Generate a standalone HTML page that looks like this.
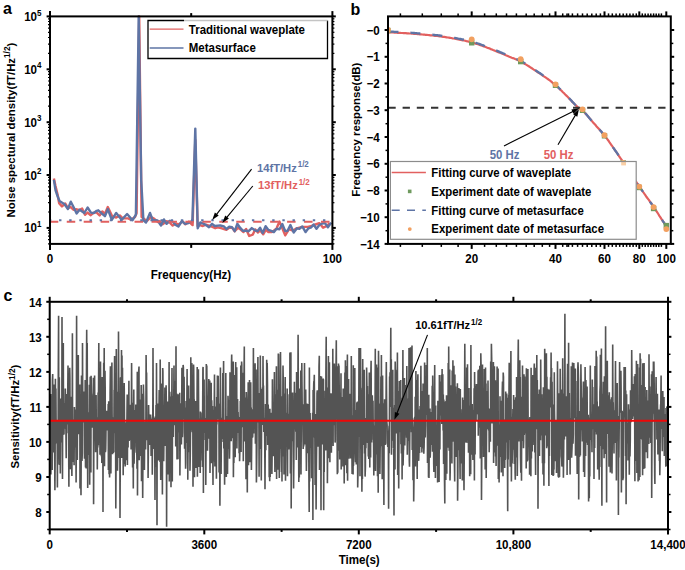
<!DOCTYPE html>
<html><head><meta charset="utf-8"><style>
html,body{margin:0;padding:0;background:#fff;}
svg{display:block;}
text{font-family:"Liberation Sans",sans-serif;}
</style></head><body>
<svg width="685" height="570" viewBox="0 0 685 570">
<defs><clipPath id="clipb"><rect x="388" y="16.4" width="282.8" height="227.5"/></clipPath></defs>
<rect width="685" height="570" fill="#fff"/>
<text transform="translate(0,14.00) scale(1,1.05) translate(0,-14.00)" x="3" y="14" font-size="16" font-weight="bold" font-family="Liberation Sans, sans-serif">a</text>
<polyline points="53.9,178.5 55.5,186.0 57.7,195.0 59.1,203.1 62.0,206.4 65.3,203.5 67.9,208.2 70.8,207.2 73.4,209.7 76.6,209.3 79.2,210.0 82.1,208.6 85.0,214.8 87.6,212.6 90.5,215.2 93.8,212.6 96.7,212.6 99.6,215.5 102.3,211.4 104.9,214.0 107.8,207.0 112.2,216.2 116.2,217.6 119.8,215.4 122.7,218.4 128.2,218.4 130.8,219.8 135.1,216.9 136.6,213.0 139.2,16.4 141.6,216.9 144.0,219.0 147.0,221.0 151.0,217.0 154.0,218.6 158.0,222.0 160.0,221.2 162.6,224.3 166.6,221.2 169.6,222.5 172.7,225.6 175.3,223.8 179.3,224.3 182.3,221.2 185.4,224.3 188.9,221.6 192.6,225.1 195.3,140.0 197.6,226.0 199.8,225.1 202.9,226.0 206.0,224.7 209.0,225.6 212.5,226.9 215.2,228.2 217.6,227.3 221.1,228.1 226.4,229.9 229.5,227.5 232.5,228.1 234.7,231.2 238.2,227.7 240.4,229.4 243.5,232.1 246.1,229.0 249.2,236.0 252.7,234.7 255.3,229.4 257.9,232.5 260.1,230.3 263.2,234.3 265.8,229.9 268.4,232.1 271.5,232.1 273.8,230.7 276.6,228.3 279.5,221.6 282.3,228.3 285.2,235.4 289.0,229.2 292.8,230.7 296.6,228.3 300.4,227.3 304.2,226.9 308.0,226.9 311.7,225.9 315.5,224.5 319.3,223.1 323.1,227.8 326.9,225.9 329.8,223.1" fill="none" stroke="#e2605f" stroke-width="2.4" stroke-linejoin="round"/>
<polyline points="53.9,179.9 55.5,190.0 57.5,196.0 59.5,201.0 64.6,204.2 67.9,209.0 70.8,201.7 73.4,206.8 76.6,213.4 79.6,209.7 84.3,213.0 87.6,207.5 90.9,212.6 93.8,213.0 96.7,210.8 98.3,210.3 101.9,213.6 104.9,216.2 107.8,209.2 111.8,219.8 116.2,212.9 121.6,219.8 127.1,214.0 132.6,220.2 135.9,214.7 138.7,16.4 141.2,180.0 143.4,220.4 146.0,222.5 150.0,212.9 152.6,219.9 157.5,220.4 161.0,225.6 163.9,219.4 166.6,223.8 169.6,220.8 172.7,221.6 175.3,224.7 178.4,226.5 181.9,221.2 185.0,223.8 188.5,223.0 192.4,220.8 195.3,128.6 197.7,228.2 200.3,222.5 202.9,223.4 206.0,225.1 209.0,227.3 212.1,223.8 214.7,226.0 217.8,225.6 220.3,225.5 223.8,226.4 226.4,229.0 229.0,226.8 232.1,227.3 234.7,231.2 237.3,223.8 240.0,227.7 243.0,230.8 246.1,230.8 248.7,231.2 251.8,228.1 254.8,230.3 257.5,231.2 260.1,227.7 262.7,233.0 265.6,226.2 268.4,229.9 271.9,231.2 273.8,232.1 276.6,228.8 279.5,229.2 282.3,224.0 285.2,231.1 287.6,230.7 290.4,225.0 293.7,232.6 297.0,228.3 299.4,228.8 302.3,226.4 305.6,232.1 308.4,228.3 311.3,227.3 313.6,224.5 316.5,228.8 319.3,225.0 322.2,223.5 325.0,223.1 327.9,227.3 331.2,222.6" fill="none" stroke="#5e74a5" stroke-width="2.4" stroke-linejoin="round"/>
<line x1="51.0" y1="221.7" x2="331.4" y2="221.7" stroke="#e2605f" stroke-width="2" stroke-dasharray="8.5 8.45" stroke-dashoffset="1.2"/>
<line x1="51.0" y1="220.3" x2="331.4" y2="220.3" stroke="#5e74a5" stroke-width="2" stroke-dasharray="2.4 7.75" stroke-dashoffset="2.1"/>
<rect x="50.0" y="16.4" width="282.4" height="227.5" fill="none" stroke="#000" stroke-width="2"/>
<line x1="50.0" y1="243.9" x2="50.0" y2="249.9" stroke="#000" stroke-width="2"/>
<line x1="50.0" y1="16.4" x2="50.0" y2="11.099999999999998" stroke="#000" stroke-width="2"/>
<line x1="191.2" y1="243.9" x2="191.2" y2="247.9" stroke="#000" stroke-width="2"/>
<line x1="191.2" y1="16.4" x2="191.2" y2="13.099999999999998" stroke="#000" stroke-width="2"/>
<line x1="332.4" y1="243.9" x2="332.4" y2="249.9" stroke="#000" stroke-width="2"/>
<line x1="332.4" y1="16.4" x2="332.4" y2="11.099999999999998" stroke="#000" stroke-width="2"/>
<line x1="46.6" y1="227.9" x2="50.0" y2="227.9" stroke="#000" stroke-width="2"/>
<line x1="332.4" y1="227.9" x2="335.79999999999995" y2="227.9" stroke="#000" stroke-width="2"/>
<line x1="48.0" y1="212.0" x2="50.0" y2="212.0" stroke="#000" stroke-width="1.2"/>
<line x1="332.4" y1="212.0" x2="334.4" y2="212.0" stroke="#000" stroke-width="1.2"/>
<line x1="48.0" y1="202.7" x2="50.0" y2="202.7" stroke="#000" stroke-width="1.2"/>
<line x1="332.4" y1="202.7" x2="334.4" y2="202.7" stroke="#000" stroke-width="1.2"/>
<line x1="48.0" y1="196.1" x2="50.0" y2="196.1" stroke="#000" stroke-width="1.2"/>
<line x1="332.4" y1="196.1" x2="334.4" y2="196.1" stroke="#000" stroke-width="1.2"/>
<line x1="48.0" y1="190.9" x2="50.0" y2="190.9" stroke="#000" stroke-width="1.2"/>
<line x1="332.4" y1="190.9" x2="334.4" y2="190.9" stroke="#000" stroke-width="1.2"/>
<line x1="48.0" y1="186.8" x2="50.0" y2="186.8" stroke="#000" stroke-width="1.2"/>
<line x1="332.4" y1="186.8" x2="334.4" y2="186.8" stroke="#000" stroke-width="1.2"/>
<line x1="48.0" y1="183.2" x2="50.0" y2="183.2" stroke="#000" stroke-width="1.2"/>
<line x1="332.4" y1="183.2" x2="334.4" y2="183.2" stroke="#000" stroke-width="1.2"/>
<line x1="48.0" y1="180.2" x2="50.0" y2="180.2" stroke="#000" stroke-width="1.2"/>
<line x1="332.4" y1="180.2" x2="334.4" y2="180.2" stroke="#000" stroke-width="1.2"/>
<line x1="48.0" y1="177.4" x2="50.0" y2="177.4" stroke="#000" stroke-width="1.2"/>
<line x1="332.4" y1="177.4" x2="334.4" y2="177.4" stroke="#000" stroke-width="1.2"/>
<line x1="46.6" y1="175.0" x2="50.0" y2="175.0" stroke="#000" stroke-width="2"/>
<line x1="332.4" y1="175.0" x2="335.79999999999995" y2="175.0" stroke="#000" stroke-width="2"/>
<line x1="48.0" y1="159.1" x2="50.0" y2="159.1" stroke="#000" stroke-width="1.2"/>
<line x1="332.4" y1="159.1" x2="334.4" y2="159.1" stroke="#000" stroke-width="1.2"/>
<line x1="48.0" y1="149.8" x2="50.0" y2="149.8" stroke="#000" stroke-width="1.2"/>
<line x1="332.4" y1="149.8" x2="334.4" y2="149.8" stroke="#000" stroke-width="1.2"/>
<line x1="48.0" y1="143.2" x2="50.0" y2="143.2" stroke="#000" stroke-width="1.2"/>
<line x1="332.4" y1="143.2" x2="334.4" y2="143.2" stroke="#000" stroke-width="1.2"/>
<line x1="48.0" y1="138.1" x2="50.0" y2="138.1" stroke="#000" stroke-width="1.2"/>
<line x1="332.4" y1="138.1" x2="334.4" y2="138.1" stroke="#000" stroke-width="1.2"/>
<line x1="48.0" y1="133.9" x2="50.0" y2="133.9" stroke="#000" stroke-width="1.2"/>
<line x1="332.4" y1="133.9" x2="334.4" y2="133.9" stroke="#000" stroke-width="1.2"/>
<line x1="48.0" y1="130.3" x2="50.0" y2="130.3" stroke="#000" stroke-width="1.2"/>
<line x1="332.4" y1="130.3" x2="334.4" y2="130.3" stroke="#000" stroke-width="1.2"/>
<line x1="48.0" y1="127.3" x2="50.0" y2="127.3" stroke="#000" stroke-width="1.2"/>
<line x1="332.4" y1="127.3" x2="334.4" y2="127.3" stroke="#000" stroke-width="1.2"/>
<line x1="48.0" y1="124.6" x2="50.0" y2="124.6" stroke="#000" stroke-width="1.2"/>
<line x1="332.4" y1="124.6" x2="334.4" y2="124.6" stroke="#000" stroke-width="1.2"/>
<line x1="46.6" y1="122.2" x2="50.0" y2="122.2" stroke="#000" stroke-width="2"/>
<line x1="332.4" y1="122.2" x2="335.79999999999995" y2="122.2" stroke="#000" stroke-width="2"/>
<line x1="48.0" y1="106.2" x2="50.0" y2="106.2" stroke="#000" stroke-width="1.2"/>
<line x1="332.4" y1="106.2" x2="334.4" y2="106.2" stroke="#000" stroke-width="1.2"/>
<line x1="48.0" y1="96.9" x2="50.0" y2="96.9" stroke="#000" stroke-width="1.2"/>
<line x1="332.4" y1="96.9" x2="334.4" y2="96.9" stroke="#000" stroke-width="1.2"/>
<line x1="48.0" y1="90.3" x2="50.0" y2="90.3" stroke="#000" stroke-width="1.2"/>
<line x1="332.4" y1="90.3" x2="334.4" y2="90.3" stroke="#000" stroke-width="1.2"/>
<line x1="48.0" y1="85.2" x2="50.0" y2="85.2" stroke="#000" stroke-width="1.2"/>
<line x1="332.4" y1="85.2" x2="334.4" y2="85.2" stroke="#000" stroke-width="1.2"/>
<line x1="48.0" y1="81.0" x2="50.0" y2="81.0" stroke="#000" stroke-width="1.2"/>
<line x1="332.4" y1="81.0" x2="334.4" y2="81.0" stroke="#000" stroke-width="1.2"/>
<line x1="48.0" y1="77.5" x2="50.0" y2="77.5" stroke="#000" stroke-width="1.2"/>
<line x1="332.4" y1="77.5" x2="334.4" y2="77.5" stroke="#000" stroke-width="1.2"/>
<line x1="48.0" y1="74.4" x2="50.0" y2="74.4" stroke="#000" stroke-width="1.2"/>
<line x1="332.4" y1="74.4" x2="334.4" y2="74.4" stroke="#000" stroke-width="1.2"/>
<line x1="48.0" y1="71.7" x2="50.0" y2="71.7" stroke="#000" stroke-width="1.2"/>
<line x1="332.4" y1="71.7" x2="334.4" y2="71.7" stroke="#000" stroke-width="1.2"/>
<line x1="46.6" y1="69.3" x2="50.0" y2="69.3" stroke="#000" stroke-width="2"/>
<line x1="332.4" y1="69.3" x2="335.79999999999995" y2="69.3" stroke="#000" stroke-width="2"/>
<line x1="48.0" y1="53.4" x2="50.0" y2="53.4" stroke="#000" stroke-width="1.2"/>
<line x1="332.4" y1="53.4" x2="334.4" y2="53.4" stroke="#000" stroke-width="1.2"/>
<line x1="48.0" y1="44.1" x2="50.0" y2="44.1" stroke="#000" stroke-width="1.2"/>
<line x1="332.4" y1="44.1" x2="334.4" y2="44.1" stroke="#000" stroke-width="1.2"/>
<line x1="48.0" y1="37.5" x2="50.0" y2="37.5" stroke="#000" stroke-width="1.2"/>
<line x1="332.4" y1="37.5" x2="334.4" y2="37.5" stroke="#000" stroke-width="1.2"/>
<line x1="48.0" y1="32.3" x2="50.0" y2="32.3" stroke="#000" stroke-width="1.2"/>
<line x1="332.4" y1="32.3" x2="334.4" y2="32.3" stroke="#000" stroke-width="1.2"/>
<line x1="48.0" y1="28.1" x2="50.0" y2="28.1" stroke="#000" stroke-width="1.2"/>
<line x1="332.4" y1="28.1" x2="334.4" y2="28.1" stroke="#000" stroke-width="1.2"/>
<line x1="48.0" y1="24.6" x2="50.0" y2="24.6" stroke="#000" stroke-width="1.2"/>
<line x1="332.4" y1="24.6" x2="334.4" y2="24.6" stroke="#000" stroke-width="1.2"/>
<line x1="48.0" y1="21.5" x2="50.0" y2="21.5" stroke="#000" stroke-width="1.2"/>
<line x1="332.4" y1="21.5" x2="334.4" y2="21.5" stroke="#000" stroke-width="1.2"/>
<line x1="48.0" y1="18.8" x2="50.0" y2="18.8" stroke="#000" stroke-width="1.2"/>
<line x1="332.4" y1="18.8" x2="334.4" y2="18.8" stroke="#000" stroke-width="1.2"/>
<line x1="46.6" y1="16.4" x2="50.0" y2="16.4" stroke="#000" stroke-width="2"/>
<line x1="332.4" y1="16.4" x2="335.79999999999995" y2="16.4" stroke="#000" stroke-width="2"/>
<line x1="48.0" y1="243.8" x2="50.0" y2="243.8" stroke="#000" stroke-width="1.2"/>
<line x1="332.4" y1="243.8" x2="334.4" y2="243.8" stroke="#000" stroke-width="1.2"/>
<line x1="48.0" y1="239.6" x2="50.0" y2="239.6" stroke="#000" stroke-width="1.2"/>
<line x1="332.4" y1="239.6" x2="334.4" y2="239.6" stroke="#000" stroke-width="1.2"/>
<line x1="48.0" y1="236.1" x2="50.0" y2="236.1" stroke="#000" stroke-width="1.2"/>
<line x1="332.4" y1="236.1" x2="334.4" y2="236.1" stroke="#000" stroke-width="1.2"/>
<line x1="48.0" y1="233.0" x2="50.0" y2="233.0" stroke="#000" stroke-width="1.2"/>
<line x1="332.4" y1="233.0" x2="334.4" y2="233.0" stroke="#000" stroke-width="1.2"/>
<line x1="48.0" y1="230.3" x2="50.0" y2="230.3" stroke="#000" stroke-width="1.2"/>
<line x1="332.4" y1="230.3" x2="334.4" y2="230.3" stroke="#000" stroke-width="1.2"/>
<text transform="translate(0,232.50) scale(1,1.05) translate(0,-232.50)" x="41.5" y="232.5" font-size="11.6" font-weight="bold" text-anchor="end" font-family="Liberation Sans, sans-serif">10<tspan dy="-5.2" font-size="8">1</tspan></text>
<text transform="translate(0,179.60) scale(1,1.05) translate(0,-179.60)" x="41.5" y="179.6" font-size="11.6" font-weight="bold" text-anchor="end" font-family="Liberation Sans, sans-serif">10<tspan dy="-5.2" font-size="8">2</tspan></text>
<text transform="translate(0,126.80) scale(1,1.05) translate(0,-126.80)" x="41.5" y="126.8" font-size="11.6" font-weight="bold" text-anchor="end" font-family="Liberation Sans, sans-serif">10<tspan dy="-5.2" font-size="8">3</tspan></text>
<text transform="translate(0,73.90) scale(1,1.05) translate(0,-73.90)" x="41.5" y="73.9" font-size="11.6" font-weight="bold" text-anchor="end" font-family="Liberation Sans, sans-serif">10<tspan dy="-5.2" font-size="8">4</tspan></text>
<text transform="translate(0,21.00) scale(1,1.05) translate(0,-21.00)" x="41.5" y="21.0" font-size="11.6" font-weight="bold" text-anchor="end" font-family="Liberation Sans, sans-serif">10<tspan dy="-5.2" font-size="8">5</tspan></text>
<text transform="translate(0,262.80) scale(1,1.05) translate(0,-262.80)" x="50.0" y="262.8" font-size="11.6" font-weight="bold" text-anchor="middle" font-family="Liberation Sans, sans-serif">0</text>
<text transform="translate(0,262.80) scale(1,1.05) translate(0,-262.80)" x="332.4" y="262.8" font-size="11.6" font-weight="bold" text-anchor="middle" font-family="Liberation Sans, sans-serif">100</text>
<text transform="translate(0,279.50) scale(1,1.05) translate(0,-279.50)" x="191" y="279.5" font-size="11.6" font-weight="bold" text-anchor="middle" font-family="Liberation Sans, sans-serif">Frequency(Hz)</text>
<text transform="translate(14.9,130.1) rotate(-90)" font-size="11.4" font-weight="bold" text-anchor="middle" font-family="Liberation Sans, sans-serif">Noise spectural density(fT/Hz<tspan dy="-4.6" font-size="8.2">1/2</tspan><tspan dy="4.6">)</tspan></text>
<rect x="148" y="20.5" width="179.5" height="38" fill="#fff" stroke="none"/>
<path d="M184,20.5 H148 V58.5 H327.5 V20.5" fill="none" stroke="#000" stroke-width="1.3"/>
<line x1="184" y1="20.5" x2="327.5" y2="20.5" stroke="#c4c4c4" stroke-width="1.3"/>
<line x1="149.7" y1="29.2" x2="183.5" y2="29.2" stroke="#e2605f" stroke-width="1.3"/>
<line x1="149.7" y1="48" x2="183.5" y2="48" stroke="#5e74a5" stroke-width="1.3"/>
<text transform="translate(0,33.60) scale(1,1.05) translate(0,-33.60)" x="188.8" y="33.6" font-size="11.5" font-weight="bold" font-family="Liberation Sans, sans-serif">Traditional waveplate</text>
<text transform="translate(0,52.40) scale(1,1.05) translate(0,-52.40)" x="188.8" y="52.4" font-size="11.5" font-weight="bold" font-family="Liberation Sans, sans-serif">Metasurface</text>
<text transform="translate(0,172.00) scale(1,1.05) translate(0,-172.00)" x="257" y="172.0" font-size="11.2" font-weight="bold" fill="#5e74a5" font-family="Liberation Sans, sans-serif">14fT/Hz<tspan dx="0.9" dy="-4.6" font-size="8">1/2</tspan></text>
<text transform="translate(0,189.50) scale(1,1.05) translate(0,-189.50)" x="258" y="189.5" font-size="11.2" font-weight="bold" fill="#e2605f" font-family="Liberation Sans, sans-serif">13fT/Hz<tspan dx="0.9" dy="-4.6" font-size="8">1/2</tspan></text>
<line x1="251.6" y1="169.1" x2="216.2" y2="214.9" stroke="#000" stroke-width="1.1"/><polygon points="212.2,220.0 214.9,212.6 218.7,215.5" fill="#000"/>
<line x1="252.8" y1="186.0" x2="226.4" y2="217.9" stroke="#000" stroke-width="1.1"/><polygon points="222.3,222.9 225.2,215.6 228.9,218.6" fill="#000"/>
<text transform="translate(0,15.20) scale(1,1.05) translate(0,-15.20)" x="350.5" y="15.2" font-size="16" font-weight="bold" font-family="Liberation Sans, sans-serif">b</text>
<polyline points="388.5,32.3 389.7,32.4 390.8,32.4 392.0,32.5 393.2,32.5 394.3,32.6 395.5,32.6 396.6,32.7 397.8,32.8 399.0,32.8 400.1,32.9 401.3,33.0 402.5,33.0 403.6,33.1 404.8,33.2 405.9,33.2 407.1,33.3 408.3,33.4 409.4,33.5 410.6,33.5 411.8,33.6 412.9,33.7 414.1,33.8 415.2,33.9 416.4,34.0 417.6,34.1 418.7,34.2 419.9,34.3 421.1,34.4 422.2,34.5 423.4,34.6 424.5,34.7 425.7,34.8 426.9,34.9 428.0,35.0 429.2,35.1 430.4,35.3 431.5,35.4 432.7,35.5 433.8,35.6 435.0,35.8 436.2,35.9 437.3,36.0 438.5,36.2 439.7,36.3 440.8,36.4 442.0,36.6 443.1,36.8 444.3,36.9 445.5,37.1 446.6,37.3 447.8,37.5 449.0,37.6 450.1,37.8 451.3,38.0 452.5,38.3 453.6,38.5 454.8,38.7 455.9,38.9 457.1,39.1 458.3,39.4 459.4,39.6 460.6,39.8 461.8,40.1 462.9,40.3 464.1,40.5 465.2,40.8 466.4,41.1 467.6,41.3 468.7,41.6 469.9,41.9 471.1,42.2 472.2,42.5 473.4,42.9 474.5,43.2 475.7,43.6 476.9,44.0 478.0,44.3 479.2,44.7 480.4,45.1 481.5,45.5 482.7,46.0 483.8,46.4 485.0,46.8 486.2,47.2 487.3,47.7 488.5,48.1 489.7,48.6 490.8,49.1 492.0,49.5 493.1,50.0 494.3,50.5 495.5,51.0 496.6,51.4 497.8,51.9 499.0,52.4 500.1,52.8 501.3,53.3 502.5,53.8 503.6,54.3 504.8,54.7 505.9,55.2 507.1,55.7 508.3,56.2 509.4,56.7 510.6,57.2 511.8,57.7 512.9,58.1 514.1,58.6 515.2,59.1 516.4,59.6 517.6,60.1 518.7,60.6 519.9,61.2 521.1,61.8 522.2,62.4 523.4,63.0 524.5,63.7 525.7,64.4 526.9,65.1 528.0,65.8 529.2,66.5 530.4,67.3 531.5,68.0 532.7,68.8 533.8,69.6 535.0,70.3 536.2,71.1 537.3,71.9 538.5,72.7 539.7,73.4 540.8,74.2 542.0,75.0 543.1,75.8 544.3,76.6 545.5,77.4 546.6,78.2 547.8,79.0 549.0,79.9 550.1,80.7 551.3,81.6 552.4,82.6 553.6,83.5 554.8,84.5 555.9,85.5 557.1,86.6 558.3,87.6 559.4,88.7 560.6,89.9 561.8,91.0 562.9,92.2 564.1,93.3 565.2,94.5 566.4,95.6 567.6,96.8 568.7,97.9 569.9,99.2 571.1,100.4 572.2,101.7 573.4,102.9 574.5,104.1 575.7,105.3 576.9,106.4 578.0,107.4 579.2,108.2 580.4,109.0 581.5,109.8 582.7,110.8 583.8,111.8 585.0,113.0 586.2,114.3 587.3,115.6 588.5,117.0 589.7,118.4 590.8,119.8 592.0,121.1 593.1,122.5 594.3,123.8 595.5,125.1 596.6,126.4 597.8,127.7 599.0,129.0 600.1,130.3 601.3,131.6 602.4,133.0 603.6,134.4 604.8,135.8 605.9,137.4 607.1,138.9 608.3,140.5 609.4,142.2 610.6,143.8 611.8,145.5 612.9,147.2 614.1,148.9 615.2,150.5 616.4,152.2 617.6,153.9 618.7,155.6 619.9,157.3 621.1,159.0 622.2,160.7 623.4,162.4 624.5,164.2 625.7,165.9 626.9,167.7 628.0,169.5 629.2,171.2 630.4,173.0 631.5,174.8 632.7,176.5 633.8,178.3 635.0,180.1 636.2,181.8 637.3,183.6 638.5,185.3 639.7,187.0 640.8,188.7 642.0,190.4 643.1,192.0 644.3,193.7 645.5,195.3 646.6,197.0 647.8,198.6 649.0,200.2 650.1,201.9 651.3,203.5 652.4,205.1 653.6,206.8 654.8,208.6 655.9,210.3 657.1,212.2 658.3,214.0 659.4,215.8 660.6,217.6 661.7,219.4 662.9,221.2 664.1,222.9 665.2,224.7 666.4,226.5" fill="none" stroke="#e2605f" stroke-width="2.2"/>
<polyline points="388.5,31.5 389.7,31.6 390.8,31.6 392.0,31.7 393.2,31.7 394.3,31.8 395.5,31.8 396.6,31.9 397.8,32.0 399.0,32.0 400.1,32.1 401.3,32.2 402.5,32.2 403.6,32.3 404.8,32.4 405.9,32.4 407.1,32.5 408.3,32.6 409.4,32.7 410.6,32.7 411.8,32.8 412.9,32.9 414.1,33.0 415.2,33.1 416.4,33.2 417.6,33.3 418.7,33.4 419.9,33.5 421.1,33.6 422.2,33.7 423.4,33.8 424.5,33.9 425.7,34.0 426.9,34.1 428.0,34.2 429.2,34.3 430.4,34.5 431.5,34.6 432.7,34.7 433.8,34.8 435.0,35.0 436.2,35.1 437.3,35.2 438.5,35.4 439.7,35.5 440.8,35.6 442.0,35.8 443.1,36.0 444.3,36.1 445.5,36.3 446.6,36.5 447.8,36.7 449.0,36.8 450.1,37.0 451.3,37.2 452.5,37.5 453.6,37.7 454.8,37.9 455.9,38.1 457.1,38.3 458.3,38.6 459.4,38.8 460.6,39.0 461.8,39.3 462.9,39.5 464.1,39.7 465.2,40.0 466.4,40.3 467.6,40.5 468.7,40.8 469.9,41.1 471.1,41.4 472.2,41.7 473.4,42.1 474.5,42.4 475.7,42.8 476.9,43.2 478.0,43.5 479.2,43.9 480.4,44.3 481.5,44.7 482.7,45.2 483.8,45.6 485.0,46.0 486.2,46.4 487.3,46.9 488.5,47.3 489.7,47.8 490.8,48.3 492.0,48.7 493.1,49.2 494.3,49.7 495.5,50.2 496.6,50.6 497.8,51.1 499.0,51.6 500.1,52.1 501.3,52.6 502.5,53.1 503.6,53.5 504.8,54.0 505.9,54.5 507.1,55.0 508.3,55.5 509.4,56.0 510.6,56.5 511.8,57.0 512.9,57.5 514.1,58.0 515.2,58.5 516.4,59.0 517.6,59.5 518.7,60.1 519.9,60.6 521.1,61.2 522.2,61.8 523.4,62.5 524.5,63.1 525.7,63.8 526.9,64.5 528.0,65.3 529.2,66.0 530.4,66.8 531.5,67.5 532.7,68.3 533.8,69.1 535.0,69.9 536.2,70.7 537.3,71.5 538.5,72.3 539.7,73.0 540.8,73.8 542.0,74.6 543.1,75.4 544.3,76.2 545.5,77.0 546.6,77.9 547.8,78.7 549.0,79.6 550.1,80.4 551.3,81.3 552.4,82.3 553.6,83.2 554.8,84.2 555.9,85.3 557.1,86.3 558.3,87.4 559.4,88.5 560.6,89.7 561.8,90.8 562.9,92.0 564.1,93.1 565.2,94.3 566.4,95.5 567.6,96.6 568.7,97.8 569.9,99.0 571.1,100.3 572.2,101.6 573.4,102.8 574.5,104.0 575.7,105.2 576.9,106.3 578.0,107.3 579.2,108.2 580.4,109.0 581.5,109.8 582.7,110.7 583.8,111.8 585.0,113.0 586.2,114.3 587.3,115.6 588.5,117.0 589.7,118.4 590.8,119.8 592.0,121.1 593.1,122.5 594.3,123.8 595.5,125.1 596.6,126.4 597.8,127.7 599.0,129.0 600.1,130.3 601.3,131.6 602.4,133.0 603.6,134.4 604.8,135.8 605.9,137.4 607.1,138.9 608.3,140.5 609.4,142.2 610.6,143.8 611.8,145.5 612.9,147.2 614.1,148.9 615.2,150.5 616.4,152.2 617.6,153.9 618.7,155.6 619.9,157.3 621.1,159.0 622.2,160.7 623.4,162.4 624.5,164.2 625.7,165.9 626.9,167.7 628.0,169.5 629.2,171.2 630.4,173.0 631.5,174.8 632.7,176.5 633.8,178.3 635.0,180.1 636.2,181.8 637.3,183.6 638.5,185.3 639.7,187.0 640.8,188.7 642.0,190.4 643.1,192.0 644.3,193.7 645.5,195.3 646.6,197.0 647.8,198.6 649.0,200.2 650.1,201.9 651.3,203.5 652.4,205.1 653.6,206.8 654.8,208.6 655.9,210.3 657.1,212.2 658.3,214.0 659.4,215.8 660.6,217.6 661.7,219.4 662.9,221.2 664.1,222.9 665.2,224.7 666.4,226.5" fill="none" stroke="#5e74a5" stroke-width="2.3" stroke-dasharray="10 12"/>
<line x1="389.0" y1="107.8" x2="669.8" y2="107.8" stroke="#333" stroke-width="2" stroke-dasharray="7.3 6.9" stroke-dashoffset="0.6"/>
<g clip-path="url(#clipb)">
<rect x="385.2" y="27.8" width="5.4" height="5.4" fill="#6f9a5e"/>
<rect x="469.0" y="40.1" width="5.4" height="5.4" fill="#6f9a5e"/>
<rect x="518.0" y="58.9" width="5.4" height="5.4" fill="#6f9a5e"/>
<rect x="552.8" y="82.6" width="5.4" height="5.4" fill="#6f9a5e"/>
<rect x="579.8" y="107.6" width="5.4" height="5.4" fill="#6f9a5e"/>
<rect x="601.8" y="133.1" width="5.4" height="5.4" fill="#6f9a5e"/>
<rect x="620.5" y="160.1" width="5.4" height="5.4" fill="#6f9a5e"/>
<rect x="636.6" y="184.8" width="5.4" height="5.4" fill="#6f9a5e"/>
<rect x="650.9" y="205.8" width="5.4" height="5.4" fill="#6f9a5e"/>
<rect x="663.6" y="222.9" width="5.4" height="5.4" fill="#6f9a5e"/>
<circle cx="387.9" cy="29.9" r="2.9" fill="#f2a060"/>
<circle cx="471.7" cy="39.3" r="2.9" fill="#f2a060"/>
<circle cx="520.7" cy="59.2" r="2.9" fill="#f2a060"/>
<circle cx="555.5" cy="84.3" r="2.9" fill="#f2a060"/>
<circle cx="582.5" cy="109.3" r="2.9" fill="#f2a060"/>
<circle cx="604.5" cy="135.2" r="2.9" fill="#f2a060"/>
<circle cx="623.2" cy="162.8" r="2.9" fill="#f2a060"/>
<circle cx="639.3" cy="186.6" r="2.9" fill="#f2a060"/>
<circle cx="653.6" cy="207.1" r="2.9" fill="#f2a060"/>
<circle cx="666.3" cy="229.1" r="2.9" fill="#f2a060"/>
</g>
<rect x="390.4" y="161.5" width="245.8" height="77.8" fill="#fff" stroke="none"/>
<rect x="621.2" y="160.8" width="4.8" height="4.6" fill="#f9cfa6"/>
<rect x="390.4" y="161.5" width="245.8" height="77.8" fill="none" stroke="#8c8c8c" stroke-width="1.2"/>
<line x1="391.7" y1="172.5" x2="425.9" y2="172.5" stroke="#e2605f" stroke-width="1.4"/>
<rect x="407.9" y="189.6" width="3.6" height="3.6" fill="#6f9a5e"/>
<line x1="391.7" y1="210.2" x2="425.9" y2="210.2" stroke="#5e74a5" stroke-width="1.4" stroke-dasharray="8 7.3"/>
<circle cx="409.8" cy="229.1" r="1.9" fill="#f2a060"/>
<text transform="translate(0,176.80) scale(1,1.05) translate(0,-176.80)" x="431.3" y="176.8" font-size="11.4" font-weight="bold" font-family="Liberation Sans, sans-serif">Fitting curve of waveplate</text>
<text transform="translate(0,196.00) scale(1,1.05) translate(0,-196.00)" x="431.3" y="196.0" font-size="11.4" font-weight="bold" font-family="Liberation Sans, sans-serif">Experiment date of waveplate</text>
<text transform="translate(0,214.80) scale(1,1.05) translate(0,-214.80)" x="431.3" y="214.8" font-size="11.4" font-weight="bold" font-family="Liberation Sans, sans-serif">Fitting curve of metasurface</text>
<text transform="translate(0,233.20) scale(1,1.05) translate(0,-233.20)" x="431.3" y="233.2" font-size="11.4" font-weight="bold" font-family="Liberation Sans, sans-serif">Experiment date of metasurface</text>
<text transform="translate(0,158.60) scale(1,1.05) translate(0,-158.60)" x="489.7" y="158.6" font-size="11.4" font-weight="bold" fill="#5e74a5" font-family="Liberation Sans, sans-serif">50 Hz</text>
<text transform="translate(0,158.60) scale(1,1.05) translate(0,-158.60)" x="543.7" y="158.6" font-size="11.4" font-weight="bold" fill="#e2605f" font-family="Liberation Sans, sans-serif">50 Hz</text>
<line x1="504.0" y1="145.9" x2="573.4" y2="111.2" stroke="#000" stroke-width="1.1"/><polygon points="579.2,108.3 573.6,113.8 571.4,109.5" fill="#000"/>
<line x1="558.0" y1="144.7" x2="575.7" y2="114.6" stroke="#000" stroke-width="1.1"/><polygon points="579.0,109.0 577.3,116.7 573.1,114.2" fill="#000"/>
<rect x="388.0" y="16.4" width="282.79999999999995" height="227.5" fill="none" stroke="#000" stroke-width="2"/>
<line x1="384.6" y1="30.0" x2="388.0" y2="30.0" stroke="#000" stroke-width="2"/>
<line x1="670.8" y1="30.0" x2="674.1999999999999" y2="30.0" stroke="#000" stroke-width="2"/>
<line x1="385.5" y1="43.4" x2="388.0" y2="43.4" stroke="#000" stroke-width="1.5"/>
<line x1="670.8" y1="43.4" x2="673.3" y2="43.4" stroke="#000" stroke-width="1.5"/>
<line x1="384.6" y1="56.8" x2="388.0" y2="56.8" stroke="#000" stroke-width="2"/>
<line x1="670.8" y1="56.8" x2="674.1999999999999" y2="56.8" stroke="#000" stroke-width="2"/>
<line x1="385.5" y1="70.2" x2="388.0" y2="70.2" stroke="#000" stroke-width="1.5"/>
<line x1="670.8" y1="70.2" x2="673.3" y2="70.2" stroke="#000" stroke-width="1.5"/>
<line x1="384.6" y1="83.5" x2="388.0" y2="83.5" stroke="#000" stroke-width="2"/>
<line x1="670.8" y1="83.5" x2="674.1999999999999" y2="83.5" stroke="#000" stroke-width="2"/>
<line x1="385.5" y1="96.9" x2="388.0" y2="96.9" stroke="#000" stroke-width="1.5"/>
<line x1="670.8" y1="96.9" x2="673.3" y2="96.9" stroke="#000" stroke-width="1.5"/>
<line x1="384.6" y1="110.2" x2="388.0" y2="110.2" stroke="#000" stroke-width="2"/>
<line x1="670.8" y1="110.2" x2="674.1999999999999" y2="110.2" stroke="#000" stroke-width="2"/>
<line x1="385.5" y1="123.7" x2="388.0" y2="123.7" stroke="#000" stroke-width="1.5"/>
<line x1="670.8" y1="123.7" x2="673.3" y2="123.7" stroke="#000" stroke-width="1.5"/>
<line x1="384.6" y1="137.0" x2="388.0" y2="137.0" stroke="#000" stroke-width="2"/>
<line x1="670.8" y1="137.0" x2="674.1999999999999" y2="137.0" stroke="#000" stroke-width="2"/>
<line x1="385.5" y1="150.4" x2="388.0" y2="150.4" stroke="#000" stroke-width="1.5"/>
<line x1="670.8" y1="150.4" x2="673.3" y2="150.4" stroke="#000" stroke-width="1.5"/>
<line x1="384.6" y1="163.8" x2="388.0" y2="163.8" stroke="#000" stroke-width="2"/>
<line x1="670.8" y1="163.8" x2="674.1999999999999" y2="163.8" stroke="#000" stroke-width="2"/>
<line x1="385.5" y1="177.2" x2="388.0" y2="177.2" stroke="#000" stroke-width="1.5"/>
<line x1="670.8" y1="177.2" x2="673.3" y2="177.2" stroke="#000" stroke-width="1.5"/>
<line x1="384.6" y1="190.5" x2="388.0" y2="190.5" stroke="#000" stroke-width="2"/>
<line x1="670.8" y1="190.5" x2="674.1999999999999" y2="190.5" stroke="#000" stroke-width="2"/>
<line x1="385.5" y1="203.9" x2="388.0" y2="203.9" stroke="#000" stroke-width="1.5"/>
<line x1="670.8" y1="203.9" x2="673.3" y2="203.9" stroke="#000" stroke-width="1.5"/>
<line x1="384.6" y1="217.2" x2="388.0" y2="217.2" stroke="#000" stroke-width="2"/>
<line x1="670.8" y1="217.2" x2="674.1999999999999" y2="217.2" stroke="#000" stroke-width="2"/>
<line x1="385.5" y1="230.7" x2="388.0" y2="230.7" stroke="#000" stroke-width="1.5"/>
<line x1="670.8" y1="230.7" x2="673.3" y2="230.7" stroke="#000" stroke-width="1.5"/>
<line x1="384.6" y1="243.9" x2="388.0" y2="243.9" stroke="#000" stroke-width="2"/>
<line x1="670.8" y1="243.9" x2="674.1999999999999" y2="243.9" stroke="#000" stroke-width="2"/>
<text transform="translate(0,34.60) scale(1,1.05) translate(0,-34.60)" x="379.6" y="34.6" font-size="11.6" font-weight="bold" text-anchor="end" font-family="Liberation Sans, sans-serif">−0</text>
<text transform="translate(0,61.40) scale(1,1.05) translate(0,-61.40)" x="379.6" y="61.4" font-size="11.6" font-weight="bold" text-anchor="end" font-family="Liberation Sans, sans-serif">−1</text>
<text transform="translate(0,88.10) scale(1,1.05) translate(0,-88.10)" x="379.6" y="88.1" font-size="11.6" font-weight="bold" text-anchor="end" font-family="Liberation Sans, sans-serif">−2</text>
<text transform="translate(0,114.80) scale(1,1.05) translate(0,-114.80)" x="379.6" y="114.8" font-size="11.6" font-weight="bold" text-anchor="end" font-family="Liberation Sans, sans-serif">−3</text>
<text transform="translate(0,141.60) scale(1,1.05) translate(0,-141.60)" x="379.6" y="141.6" font-size="11.6" font-weight="bold" text-anchor="end" font-family="Liberation Sans, sans-serif">−4</text>
<text transform="translate(0,168.30) scale(1,1.05) translate(0,-168.30)" x="379.6" y="168.3" font-size="11.6" font-weight="bold" text-anchor="end" font-family="Liberation Sans, sans-serif">−6</text>
<text transform="translate(0,195.10) scale(1,1.05) translate(0,-195.10)" x="379.6" y="195.1" font-size="11.6" font-weight="bold" text-anchor="end" font-family="Liberation Sans, sans-serif">−8</text>
<text transform="translate(0,221.80) scale(1,1.05) translate(0,-221.80)" x="379.6" y="221.8" font-size="11.6" font-weight="bold" text-anchor="end" font-family="Liberation Sans, sans-serif">−10</text>
<text transform="translate(0,248.60) scale(1,1.05) translate(0,-248.60)" x="379.6" y="248.6" font-size="11.6" font-weight="bold" text-anchor="end" font-family="Liberation Sans, sans-serif">−14</text>
<line x1="400.4" y1="243.9" x2="400.4" y2="246.9" stroke="#000" stroke-width="1.5"/>
<line x1="400.4" y1="16.4" x2="400.4" y2="13.399999999999999" stroke="#000" stroke-width="1.5"/>
<line x1="422.3" y1="243.9" x2="422.3" y2="246.9" stroke="#000" stroke-width="1.5"/>
<line x1="422.3" y1="16.4" x2="422.3" y2="13.399999999999999" stroke="#000" stroke-width="1.5"/>
<line x1="441.3" y1="243.9" x2="441.3" y2="246.9" stroke="#000" stroke-width="1.5"/>
<line x1="441.3" y1="16.4" x2="441.3" y2="13.399999999999999" stroke="#000" stroke-width="1.5"/>
<line x1="458.1" y1="243.9" x2="458.1" y2="246.9" stroke="#000" stroke-width="1.5"/>
<line x1="458.1" y1="16.4" x2="458.1" y2="13.399999999999999" stroke="#000" stroke-width="1.5"/>
<line x1="484.6" y1="243.9" x2="484.6" y2="246.9" stroke="#000" stroke-width="1.5"/>
<line x1="484.6" y1="16.4" x2="484.6" y2="13.399999999999999" stroke="#000" stroke-width="1.5"/>
<line x1="496.3" y1="243.9" x2="496.3" y2="246.9" stroke="#000" stroke-width="1.5"/>
<line x1="496.3" y1="16.4" x2="496.3" y2="13.399999999999999" stroke="#000" stroke-width="1.5"/>
<line x1="506.5" y1="243.9" x2="506.5" y2="246.9" stroke="#000" stroke-width="1.5"/>
<line x1="506.5" y1="16.4" x2="506.5" y2="13.399999999999999" stroke="#000" stroke-width="1.5"/>
<line x1="516.4" y1="243.9" x2="516.4" y2="246.9" stroke="#000" stroke-width="1.5"/>
<line x1="516.4" y1="16.4" x2="516.4" y2="13.399999999999999" stroke="#000" stroke-width="1.5"/>
<line x1="526.2" y1="243.9" x2="526.2" y2="246.9" stroke="#000" stroke-width="1.5"/>
<line x1="526.2" y1="16.4" x2="526.2" y2="13.399999999999999" stroke="#000" stroke-width="1.5"/>
<line x1="534.2" y1="243.9" x2="534.2" y2="246.9" stroke="#000" stroke-width="1.5"/>
<line x1="534.2" y1="16.4" x2="534.2" y2="13.399999999999999" stroke="#000" stroke-width="1.5"/>
<line x1="542.3" y1="243.9" x2="542.3" y2="246.9" stroke="#000" stroke-width="1.5"/>
<line x1="542.3" y1="16.4" x2="542.3" y2="13.399999999999999" stroke="#000" stroke-width="1.5"/>
<line x1="549.6" y1="243.9" x2="549.6" y2="246.9" stroke="#000" stroke-width="1.5"/>
<line x1="549.6" y1="16.4" x2="549.6" y2="13.399999999999999" stroke="#000" stroke-width="1.5"/>
<line x1="562.7" y1="243.9" x2="562.7" y2="246.9" stroke="#000" stroke-width="1.5"/>
<line x1="562.7" y1="16.4" x2="562.7" y2="13.399999999999999" stroke="#000" stroke-width="1.5"/>
<line x1="567.0" y1="243.9" x2="567.0" y2="246.9" stroke="#000" stroke-width="1.5"/>
<line x1="567.0" y1="16.4" x2="567.0" y2="13.399999999999999" stroke="#000" stroke-width="1.5"/>
<line x1="568.5" y1="243.9" x2="568.5" y2="246.9" stroke="#000" stroke-width="1.5"/>
<line x1="568.5" y1="16.4" x2="568.5" y2="13.399999999999999" stroke="#000" stroke-width="1.5"/>
<line x1="572.4" y1="243.9" x2="572.4" y2="246.9" stroke="#000" stroke-width="1.5"/>
<line x1="572.4" y1="16.4" x2="572.4" y2="13.399999999999999" stroke="#000" stroke-width="1.5"/>
<line x1="577.6" y1="243.9" x2="577.6" y2="246.9" stroke="#000" stroke-width="1.5"/>
<line x1="577.6" y1="16.4" x2="577.6" y2="13.399999999999999" stroke="#000" stroke-width="1.5"/>
<line x1="582.5" y1="243.9" x2="582.5" y2="246.9" stroke="#000" stroke-width="1.5"/>
<line x1="582.5" y1="16.4" x2="582.5" y2="13.399999999999999" stroke="#000" stroke-width="1.5"/>
<line x1="587.2" y1="243.9" x2="587.2" y2="246.9" stroke="#000" stroke-width="1.5"/>
<line x1="587.2" y1="16.4" x2="587.2" y2="13.399999999999999" stroke="#000" stroke-width="1.5"/>
<line x1="591.8" y1="243.9" x2="591.8" y2="246.9" stroke="#000" stroke-width="1.5"/>
<line x1="591.8" y1="16.4" x2="591.8" y2="13.399999999999999" stroke="#000" stroke-width="1.5"/>
<line x1="596.2" y1="243.9" x2="596.2" y2="246.9" stroke="#000" stroke-width="1.5"/>
<line x1="596.2" y1="16.4" x2="596.2" y2="13.399999999999999" stroke="#000" stroke-width="1.5"/>
<line x1="600.4" y1="243.9" x2="600.4" y2="246.9" stroke="#000" stroke-width="1.5"/>
<line x1="600.4" y1="16.4" x2="600.4" y2="13.399999999999999" stroke="#000" stroke-width="1.5"/>
<line x1="608.5" y1="243.9" x2="608.5" y2="246.9" stroke="#000" stroke-width="1.5"/>
<line x1="608.5" y1="16.4" x2="608.5" y2="13.399999999999999" stroke="#000" stroke-width="1.5"/>
<line x1="612.3" y1="243.9" x2="612.3" y2="246.9" stroke="#000" stroke-width="1.5"/>
<line x1="612.3" y1="16.4" x2="612.3" y2="13.399999999999999" stroke="#000" stroke-width="1.5"/>
<line x1="616.1" y1="243.9" x2="616.1" y2="246.9" stroke="#000" stroke-width="1.5"/>
<line x1="616.1" y1="16.4" x2="616.1" y2="13.399999999999999" stroke="#000" stroke-width="1.5"/>
<line x1="619.7" y1="243.9" x2="619.7" y2="246.9" stroke="#000" stroke-width="1.5"/>
<line x1="619.7" y1="16.4" x2="619.7" y2="13.399999999999999" stroke="#000" stroke-width="1.5"/>
<line x1="623.2" y1="243.9" x2="623.2" y2="246.9" stroke="#000" stroke-width="1.5"/>
<line x1="623.2" y1="16.4" x2="623.2" y2="13.399999999999999" stroke="#000" stroke-width="1.5"/>
<line x1="626.6" y1="243.9" x2="626.6" y2="246.9" stroke="#000" stroke-width="1.5"/>
<line x1="626.6" y1="16.4" x2="626.6" y2="13.399999999999999" stroke="#000" stroke-width="1.5"/>
<line x1="629.9" y1="243.9" x2="629.9" y2="246.9" stroke="#000" stroke-width="1.5"/>
<line x1="629.9" y1="16.4" x2="629.9" y2="13.399999999999999" stroke="#000" stroke-width="1.5"/>
<line x1="633.1" y1="243.9" x2="633.1" y2="246.9" stroke="#000" stroke-width="1.5"/>
<line x1="633.1" y1="16.4" x2="633.1" y2="13.399999999999999" stroke="#000" stroke-width="1.5"/>
<line x1="636.3" y1="243.9" x2="636.3" y2="246.9" stroke="#000" stroke-width="1.5"/>
<line x1="636.3" y1="16.4" x2="636.3" y2="13.399999999999999" stroke="#000" stroke-width="1.5"/>
<line x1="642.3" y1="243.9" x2="642.3" y2="246.9" stroke="#000" stroke-width="1.5"/>
<line x1="642.3" y1="16.4" x2="642.3" y2="13.399999999999999" stroke="#000" stroke-width="1.5"/>
<line x1="645.2" y1="243.9" x2="645.2" y2="246.9" stroke="#000" stroke-width="1.5"/>
<line x1="645.2" y1="16.4" x2="645.2" y2="13.399999999999999" stroke="#000" stroke-width="1.5"/>
<line x1="648.1" y1="243.9" x2="648.1" y2="246.9" stroke="#000" stroke-width="1.5"/>
<line x1="648.1" y1="16.4" x2="648.1" y2="13.399999999999999" stroke="#000" stroke-width="1.5"/>
<line x1="650.8" y1="243.9" x2="650.8" y2="246.9" stroke="#000" stroke-width="1.5"/>
<line x1="650.8" y1="16.4" x2="650.8" y2="13.399999999999999" stroke="#000" stroke-width="1.5"/>
<line x1="653.6" y1="243.9" x2="653.6" y2="246.9" stroke="#000" stroke-width="1.5"/>
<line x1="653.6" y1="16.4" x2="653.6" y2="13.399999999999999" stroke="#000" stroke-width="1.5"/>
<line x1="656.2" y1="243.9" x2="656.2" y2="246.9" stroke="#000" stroke-width="1.5"/>
<line x1="656.2" y1="16.4" x2="656.2" y2="13.399999999999999" stroke="#000" stroke-width="1.5"/>
<line x1="658.8" y1="243.9" x2="658.8" y2="246.9" stroke="#000" stroke-width="1.5"/>
<line x1="658.8" y1="16.4" x2="658.8" y2="13.399999999999999" stroke="#000" stroke-width="1.5"/>
<line x1="661.4" y1="243.9" x2="661.4" y2="246.9" stroke="#000" stroke-width="1.5"/>
<line x1="661.4" y1="16.4" x2="661.4" y2="13.399999999999999" stroke="#000" stroke-width="1.5"/>
<line x1="471.7" y1="243.9" x2="471.7" y2="248.9" stroke="#000" stroke-width="2"/>
<line x1="471.7" y1="16.4" x2="471.7" y2="11.399999999999999" stroke="#000" stroke-width="2"/>
<line x1="555.5" y1="243.9" x2="555.5" y2="248.9" stroke="#000" stroke-width="2"/>
<line x1="555.5" y1="16.4" x2="555.5" y2="11.399999999999999" stroke="#000" stroke-width="2"/>
<line x1="604.5" y1="243.9" x2="604.5" y2="248.9" stroke="#000" stroke-width="2"/>
<line x1="604.5" y1="16.4" x2="604.5" y2="11.399999999999999" stroke="#000" stroke-width="2"/>
<line x1="639.3" y1="243.9" x2="639.3" y2="248.9" stroke="#000" stroke-width="2"/>
<line x1="639.3" y1="16.4" x2="639.3" y2="11.399999999999999" stroke="#000" stroke-width="2"/>
<line x1="666.3" y1="243.9" x2="666.3" y2="248.9" stroke="#000" stroke-width="2"/>
<line x1="666.3" y1="16.4" x2="666.3" y2="11.399999999999999" stroke="#000" stroke-width="2"/>
<text transform="translate(0,262.60) scale(1,1.05) translate(0,-262.60)" x="471.7" y="262.6" font-size="11.6" font-weight="bold" text-anchor="middle" font-family="Liberation Sans, sans-serif">20</text>
<text transform="translate(0,262.60) scale(1,1.05) translate(0,-262.60)" x="555.5" y="262.6" font-size="11.6" font-weight="bold" text-anchor="middle" font-family="Liberation Sans, sans-serif">40</text>
<text transform="translate(0,262.60) scale(1,1.05) translate(0,-262.60)" x="604.5" y="262.6" font-size="11.6" font-weight="bold" text-anchor="middle" font-family="Liberation Sans, sans-serif">60</text>
<text transform="translate(0,262.60) scale(1,1.05) translate(0,-262.60)" x="639.3" y="262.6" font-size="11.6" font-weight="bold" text-anchor="middle" font-family="Liberation Sans, sans-serif">80</text>
<text transform="translate(0,262.60) scale(1,1.05) translate(0,-262.60)" x="666.3" y="262.6" font-size="11.6" font-weight="bold" text-anchor="middle" font-family="Liberation Sans, sans-serif">100</text>
<text transform="translate(359.9,129.7) rotate(-90)" font-size="11.4" font-weight="bold" text-anchor="middle" font-family="Liberation Sans, sans-serif">Frequency response(dB)</text>
<text transform="translate(0,301.00) scale(1,1.05) translate(0,-301.00)" x="3.5" y="301" font-size="16" font-weight="bold" font-family="Liberation Sans, sans-serif">c</text>
<polyline points="50.7,393.9 50.9,474.4 51.2,396.5 51.4,447.5 51.7,395.7 51.9,416.4 52.2,469.9 52.4,380.3 52.7,374.0 52.9,422.7 53.2,429.4 53.4,425.8 53.7,452.4 53.9,384.6 54.2,438.4 54.4,422.2 54.6,446.7 54.9,490.3 55.1,463.0 55.4,378.7 55.6,425.7 55.9,388.5 56.1,420.1 56.4,443.4 56.6,431.2 56.9,438.8 57.1,420.3 57.4,487.5 57.6,430.1 57.9,464.4 58.1,446.1 58.3,368.6 58.6,315.8 58.8,453.3 59.1,410.1 59.3,377.3 59.6,464.9 59.8,426.9 60.1,439.6 60.3,473.4 60.6,398.6 60.8,421.2 61.1,418.4 61.3,442.6 61.6,407.3 61.8,436.2 62.0,316.9 62.3,452.3 62.5,479.1 62.8,382.7 63.0,434.9 63.3,343.1 63.5,421.5 63.8,432.8 64.0,434.6 64.3,403.2 64.5,428.8 64.8,424.7 65.0,419.9 65.3,388.6 65.5,402.2 65.7,410.2 66.0,435.9 66.2,458.2 66.5,394.6 66.7,394.1 67.0,424.4 67.2,405.6 67.5,398.9 67.7,397.5 68.0,365.6 68.2,433.3 68.5,378.1 68.7,455.6 68.9,486.8 69.2,406.6 69.4,395.7 69.7,367.8 69.9,378.1 70.2,453.5 70.4,469.3 70.7,397.1 70.9,449.6 71.2,420.9 71.4,396.8 71.7,466.9 71.9,476.0 72.2,413.3 72.4,333.3 72.6,427.4 72.9,419.5 73.1,444.2 73.4,462.1 73.6,425.1 73.9,447.0 74.1,465.2 74.4,406.9 74.6,422.2 74.9,409.6 75.1,447.1 75.4,438.2 75.6,447.4 75.9,444.5 76.1,482.6 76.3,442.0 76.6,315.8 76.8,411.1 77.1,366.5 77.3,459.9 77.6,395.2 77.8,423.1 78.1,421.0 78.3,355.0 78.6,434.2 78.8,398.3 79.1,423.0 79.3,418.1 79.6,429.5 79.8,384.5 80.0,488.5 80.3,480.4 80.5,442.9 80.8,478.0 81.0,495.3 81.3,438.3 81.5,375.5 81.8,418.9 82.0,461.0 82.3,453.3 82.5,343.1 82.8,415.0 83.0,418.8 83.3,422.5 83.5,419.2 83.7,391.4 84.0,400.4 84.2,412.7 84.5,458.8 84.7,401.7 85.0,445.8 85.2,380.1 85.5,467.4 85.7,425.6 86.0,420.8 86.2,468.6 86.5,364.4 86.7,329.8 87.0,436.9 87.2,343.1 87.4,407.5 87.7,487.9 87.9,412.2 88.2,422.6 88.4,417.9 88.7,454.9 88.9,429.0 89.2,426.0 89.4,384.7 89.7,484.7 89.9,420.7 90.2,376.7 90.4,436.4 90.7,431.7 90.9,472.4 91.1,375.8 91.4,393.1 91.6,394.5 91.9,401.5 92.1,417.4 92.4,414.4 92.6,427.7 92.9,426.3 93.1,419.0 93.4,377.8 93.6,504.3 93.9,422.2 94.1,436.9 94.4,438.4 94.6,375.5 94.8,406.3 95.1,418.7 95.3,430.3 95.6,452.2 95.8,422.5 96.1,395.1 96.3,432.1 96.6,427.3 96.8,427.2 97.1,417.2 97.3,469.6 97.6,427.9 97.8,447.4 98.1,392.4 98.3,445.3 98.5,401.8 98.8,343.1 99.0,431.0 99.3,440.7 99.5,414.1 99.8,420.6 100.0,454.7 100.3,404.7 100.5,361.6 100.8,429.4 101.0,427.5 101.3,456.3 101.5,409.6 101.8,463.1 102.0,458.3 102.2,376.9 102.5,451.4 102.7,383.8 103.0,512.0 103.2,411.7 103.5,401.8 103.7,362.8 104.0,427.2 104.2,348.0 104.5,466.2 104.7,419.1 105.0,370.7 105.2,388.3 105.4,452.2 105.7,449.2 105.9,437.4 106.2,410.8 106.4,427.4 106.7,413.4 106.9,410.7 107.2,430.4 107.4,421.9 107.7,413.8 107.9,423.3 108.2,404.1 108.4,469.9 108.7,401.3 108.9,418.7 109.1,474.2 109.4,408.0 109.6,477.4 109.9,465.9 110.1,393.3 110.4,366.3 110.6,425.2 110.9,473.4 111.1,431.9 111.4,441.1 111.6,401.5 111.9,362.5 112.1,414.2 112.4,443.2 112.6,454.3 112.8,422.2 113.1,425.6 113.3,452.9 113.6,417.3 113.8,452.3 114.1,390.0 114.3,391.6 114.6,356.1 114.8,433.3 115.1,406.6 115.3,424.1 115.6,431.2 115.8,508.5 116.1,456.5 116.3,349.1 116.5,398.3 116.8,426.0 117.0,414.4 117.3,391.8 117.5,470.7 117.8,443.4 118.0,415.4 118.3,408.9 118.5,331.6 118.8,389.4 119.0,414.1 119.3,457.9 119.5,449.5 119.8,395.3 120.0,517.9 120.2,476.4 120.5,377.4 120.7,401.3 121.0,376.9 121.2,433.1 121.5,350.1 121.7,457.9 122.0,355.4 122.2,426.4 122.5,367.8 122.7,442.5 123.0,415.0 123.2,475.2 123.5,433.8 123.7,386.4 123.9,464.2 124.2,383.0 124.4,408.7 124.7,457.4 124.9,438.0 125.2,466.4 125.4,422.2 125.7,438.4 125.9,447.6 126.2,430.3 126.4,452.8 126.7,460.2 126.9,422.0 127.2,394.5 127.4,464.9 127.6,420.5 127.9,438.8 128.1,447.5 128.4,397.3 128.6,434.5 128.9,380.7 129.1,441.1 129.4,410.4 129.6,426.5 129.9,440.2 130.1,405.2 130.4,424.6 130.6,404.7 130.9,421.8 131.1,449.4 131.3,423.3 131.6,363.1 131.8,394.8 132.1,445.0 132.3,421.6 132.6,467.6 132.8,402.7 133.1,450.4 133.3,488.5 133.6,422.2 133.8,389.4 134.1,463.8 134.3,451.7 134.6,442.0 134.8,452.7 135.0,409.9 135.3,443.0 135.5,440.4 135.8,404.6 136.0,441.0 136.3,408.9 136.5,446.4 136.8,452.6 137.0,468.8 137.3,371.8 137.5,495.5 137.8,414.2 138.0,421.4 138.2,416.4 138.5,419.3 138.7,371.6 139.0,366.6 139.2,460.3 139.5,446.4 139.7,454.6 140.0,401.5 140.2,399.6 140.5,445.1 140.7,456.1 141.0,429.6 141.2,384.9 141.5,481.2 141.7,407.0 141.9,448.2 142.2,393.8 142.4,448.3 142.7,498.0 142.9,459.5 143.2,445.9 143.4,384.6 143.7,399.2 143.9,431.0 144.2,443.2 144.4,470.0 144.7,430.8 144.9,421.4 145.2,422.7 145.4,423.0 145.6,449.6 145.9,422.3 146.1,355.0 146.4,387.2 146.6,372.4 146.9,424.1 147.1,440.3 147.4,422.2 147.6,436.2 147.9,439.6 148.1,478.0 148.4,447.3 148.6,405.0 148.9,423.2 149.1,414.2 149.3,425.2 149.6,439.2 149.8,444.9 150.1,426.7 150.3,434.7 150.6,414.5 150.8,420.7 151.1,456.1 151.3,418.8 151.6,456.1 151.8,437.0 152.1,428.5 152.3,474.8 152.6,418.0 152.8,416.4 153.0,348.0 153.3,432.6 153.5,431.3 153.8,449.0 154.0,428.5 154.3,437.2 154.5,417.8 154.8,456.0 155.0,500.1 155.3,416.4 155.5,424.6 155.8,433.0 156.0,405.0 156.3,467.0 156.5,363.1 156.7,413.9 157.0,525.3 157.2,410.1 157.5,438.2 157.7,427.5 158.0,403.5 158.2,409.1 158.5,415.1 158.7,460.4 159.0,406.4 159.2,390.0 159.5,394.0 159.7,414.4 160.0,462.0 160.2,359.6 160.4,424.5 160.7,480.0 160.9,410.1 161.2,462.2 161.4,457.2 161.7,438.7 161.9,383.6 162.2,431.5 162.4,494.5 162.7,368.0 162.9,371.4 163.2,423.8 163.4,428.2 163.7,461.2 163.9,443.3 164.1,406.4 164.4,407.4 164.6,416.9 164.9,387.6 165.1,446.1 165.4,422.4 165.6,396.4 165.9,401.3 166.1,385.3 166.4,407.5 166.6,526.7 166.9,408.7 167.1,453.4 167.4,473.8 167.6,401.6 167.8,422.4 168.1,410.5 168.3,474.4 168.6,432.4 168.8,440.1 169.1,362.1 169.3,481.5 169.6,431.4 169.8,391.7 170.1,408.3 170.3,439.8 170.6,421.0 170.8,396.5 171.0,487.2 171.3,424.5 171.5,403.5 171.8,399.2 172.0,368.0 172.3,481.5 172.5,410.9 172.8,411.2 173.0,396.3 173.3,437.1 173.5,421.8 173.8,392.9 174.0,365.5 174.3,425.3 174.5,422.0 174.7,414.9 175.0,383.1 175.2,421.4 175.5,380.8 175.7,446.4 176.0,346.3 176.2,425.7 176.5,400.1 176.7,393.5 177.0,459.4 177.2,444.0 177.5,411.9 177.7,437.3 178.0,459.3 178.2,394.2 178.4,408.0 178.7,408.1 178.9,432.6 179.2,394.5 179.4,426.6 179.7,392.7 179.9,475.5 180.2,442.3 180.4,415.3 180.7,438.5 180.9,403.3 181.2,413.9 181.4,444.4 181.7,418.7 181.9,367.7 182.1,396.5 182.4,437.3 182.6,432.3 182.9,388.0 183.1,364.9 183.4,367.2 183.6,418.8 183.9,414.3 184.1,376.8 184.4,424.1 184.6,448.7 184.9,417.2 185.1,407.4 185.4,444.7 185.6,468.8 185.8,462.9 186.1,400.9 186.3,443.1 186.6,424.8 186.8,414.2 187.1,369.1 187.3,430.7 187.6,405.4 187.8,479.8 188.1,431.7 188.3,452.2 188.6,385.4 188.8,421.4 189.1,443.7 189.3,431.6 189.5,427.5 189.8,398.5 190.0,470.8 190.3,453.3 190.5,432.5 190.8,357.2 191.0,390.3 191.3,424.1 191.5,397.9 191.8,363.0 192.0,428.0 192.3,432.3 192.5,381.8 192.8,404.7 193.0,486.8 193.2,436.9 193.5,364.5 193.7,367.2 194.0,402.6 194.2,399.2 194.5,477.2 194.7,401.3 195.0,426.3 195.2,407.9 195.5,400.9 195.7,430.2 196.0,467.9 196.2,410.4 196.5,440.8 196.7,429.5 196.9,436.8 197.2,367.0 197.4,476.7 197.7,388.6 197.9,413.9 198.2,391.7 198.4,369.3 198.7,420.0 198.9,467.1 199.2,443.7 199.4,451.9 199.7,433.6 199.9,418.5 200.2,473.1 200.4,411.5 200.6,460.5 200.9,412.6 201.1,423.5 201.4,429.0 201.6,422.5 201.9,435.2 202.1,437.3 202.4,466.9 202.6,421.4 202.9,368.9 203.1,366.9 203.4,493.1 203.6,400.3 203.9,439.9 204.1,379.5 204.3,422.1 204.6,422.5 204.8,428.7 205.1,418.0 205.3,432.7 205.6,422.9 205.8,485.0 206.1,430.9 206.3,364.1 206.6,422.5 206.8,365.6 207.1,406.0 207.3,401.3 207.5,450.7 207.8,426.1 208.0,395.8 208.3,413.3 208.5,417.3 208.8,378.9 209.0,438.7 209.3,418.3 209.5,434.5 209.8,380.5 210.0,473.1 210.3,438.6 210.5,434.8 210.8,402.6 211.0,404.2 211.2,382.8 211.5,463.2 211.7,400.2 212.0,428.5 212.2,438.6 212.5,405.9 212.7,445.6 213.0,485.0 213.2,430.7 213.5,461.5 213.7,438.5 214.0,410.1 214.2,411.7 214.5,374.6 214.7,426.4 214.9,466.5 215.2,443.7 215.4,449.2 215.7,459.2 215.9,406.5 216.2,441.8 216.4,478.7 216.7,396.9 216.9,424.4 217.2,408.1 217.4,375.4 217.7,398.0 217.9,419.2 218.2,375.8 218.4,405.0 218.6,406.3 218.9,405.8 219.1,472.5 219.4,426.4 219.6,429.6 219.9,505.7 220.1,466.7 220.4,367.4 220.6,417.1 220.9,459.7 221.1,474.0 221.4,429.3 221.6,423.3 221.9,442.1 222.1,417.8 222.3,439.1 222.6,404.8 222.8,372.9 223.1,421.6 223.3,393.8 223.6,361.0 223.8,448.4 224.1,433.4 224.3,444.0 224.6,484.7 224.8,453.0 225.1,434.3 225.3,421.4 225.6,448.8 225.8,372.9 226.0,434.5 226.3,477.0 226.5,463.4 226.8,432.9 227.0,416.1 227.3,426.2 227.5,474.0 227.8,434.9 228.0,395.7 228.3,403.1 228.5,423.0 228.8,448.9 229.0,400.2 229.3,439.4 229.5,458.8 229.7,447.0 230.0,372.3 230.2,413.2 230.5,381.4 230.7,436.9 231.0,388.4 231.2,441.3 231.5,363.1 231.7,354.5 232.0,393.6 232.2,438.3 232.5,423.6 232.7,408.9 233.0,377.2 233.2,361.4 233.4,477.2 233.7,430.5 233.9,462.9 234.2,416.7 234.4,375.1 234.7,409.7 234.9,393.1 235.2,457.3 235.4,392.0 235.7,362.0 235.9,395.8 236.2,412.6 236.4,415.8 236.7,367.3 236.9,448.5 237.1,423.9 237.4,407.1 237.6,399.0 237.9,433.0 238.1,411.9 238.4,428.4 238.6,417.1 238.9,424.3 239.1,453.3 239.4,421.2 239.6,461.2 239.9,448.6 240.1,427.6 240.3,401.1 240.6,452.0 240.8,365.6 241.1,452.0 241.3,386.7 241.6,361.5 241.8,364.9 242.1,427.2 242.3,398.1 242.6,416.9 242.8,417.4 243.1,372.8 243.3,461.3 243.6,387.9 243.8,422.1 244.0,376.7 244.3,346.6 244.5,441.6 244.8,411.9 245.0,397.5 245.3,419.4 245.5,405.2 245.8,437.0 246.0,479.3 246.3,392.0 246.5,398.3 246.8,415.8 247.0,418.4 247.3,492.4 247.5,435.2 247.7,443.3 248.0,426.6 248.2,382.3 248.5,465.2 248.7,382.2 249.0,441.1 249.2,455.9 249.5,380.1 249.7,423.7 250.0,462.3 250.2,432.1 250.5,390.7 250.7,382.3 251.0,434.2 251.2,407.5 251.4,469.9 251.7,441.2 251.9,409.2 252.2,421.6 252.4,437.7 252.7,436.3 252.9,418.4 253.2,419.6 253.4,348.0 253.7,433.6 253.9,386.8 254.2,414.2 254.4,394.4 254.7,385.5 254.9,403.6 255.1,363.3 255.4,443.8 255.6,398.0 255.9,429.4 256.1,369.6 256.4,482.6 256.6,473.3 256.9,446.5 257.1,402.9 257.4,399.6 257.6,401.1 257.9,357.1 258.1,408.6 258.4,403.3 258.6,422.6 258.8,393.0 259.1,476.7 259.3,403.3 259.6,448.9 259.8,394.0 260.1,426.9 260.3,355.4 260.6,409.9 260.8,446.9 261.1,447.2 261.3,480.5 261.6,421.4 261.8,405.5 262.1,389.1 262.3,425.0 262.5,387.4 262.8,420.0 263.0,356.1 263.3,401.7 263.5,385.4 263.8,432.0 264.0,428.8 264.3,426.1 264.5,417.7 264.8,451.9 265.0,489.2 265.3,434.7 265.5,404.1 265.8,450.2 266.0,407.6 266.2,406.4 266.5,435.9 266.7,359.7 267.0,406.9 267.2,363.0 267.5,385.1 267.7,445.1 268.0,434.6 268.2,404.6 268.5,418.3 268.7,418.8 269.0,430.6 269.2,477.2 269.5,428.1 269.7,481.3 269.9,408.7 270.2,477.0 270.4,442.0 270.7,427.0 270.9,412.8 271.2,460.4 271.4,468.2 271.7,449.1 271.9,473.9 272.2,445.9 272.4,379.3 272.7,447.8 272.9,403.7 273.2,456.3 273.4,412.7 273.6,429.0 273.9,422.2 274.1,405.1 274.4,371.9 274.6,415.1 274.9,472.0 275.1,449.2 275.4,403.0 275.6,428.2 275.9,394.2 276.1,422.0 276.4,366.2 276.6,479.1 276.8,430.8 277.1,389.7 277.3,433.0 277.6,449.0 277.8,430.1 278.1,469.8 278.3,353.6 278.6,354.7 278.8,380.2 279.1,459.5 279.3,478.0 279.6,434.6 279.8,385.8 280.1,448.8 280.3,444.2 280.5,351.9 280.8,391.3 281.0,433.1 281.3,457.9 281.5,472.0 281.8,443.6 282.0,481.5 282.3,396.2 282.5,440.9 282.8,405.1 283.0,365.5 283.3,383.5 283.5,456.6 283.8,393.5 284.0,474.5 284.2,443.4 284.5,449.5 284.7,423.9 285.0,468.5 285.2,376.9 285.5,480.7 285.7,452.9 286.0,428.4 286.2,427.1 286.5,415.8 286.7,412.8 287.0,426.6 287.2,388.6 287.5,476.2 287.7,420.6 287.9,441.5 288.2,416.6 288.4,413.7 288.7,449.4 288.9,441.4 289.2,394.2 289.4,408.7 289.7,444.1 289.9,352.6 290.2,356.2 290.4,473.4 290.7,409.5 290.9,352.3 291.2,508.5 291.4,412.3 291.6,428.3 291.9,440.8 292.1,428.5 292.4,441.3 292.6,392.6 292.9,435.5 293.1,437.1 293.4,465.6 293.6,488.5 293.9,454.0 294.1,427.3 294.4,381.8 294.6,407.0 294.9,401.8 295.1,407.4 295.3,418.4 295.6,425.2 295.8,431.8 296.1,392.8 296.3,460.0 296.6,372.0 296.8,419.3 297.1,447.4 297.3,438.0 297.6,444.4 297.8,415.0 298.1,334.7 298.3,382.0 298.6,446.5 298.8,481.9 299.0,443.9 299.3,477.5 299.5,421.8 299.8,388.6 300.0,401.4 300.3,459.4 300.5,442.3 300.8,370.6 301.0,474.5 301.3,420.4 301.5,392.0 301.8,363.0 302.0,386.2 302.3,416.9 302.5,411.2 302.7,404.2 303.0,436.9 303.2,449.0 303.5,419.1 303.7,446.4 304.0,422.2 304.2,417.9 304.5,363.0 304.7,444.6 305.0,424.0 305.2,425.3 305.5,407.7 305.7,389.5 306.0,435.3 306.2,445.5 306.4,471.1 306.7,449.4 306.9,403.6 307.2,419.1 307.4,453.2 307.7,432.6 307.9,419.5 308.2,404.1 308.4,440.0 308.7,428.8 308.9,476.3 309.2,512.0 309.4,367.6 309.6,481.6 309.9,431.9 310.1,413.1 310.4,433.3 310.6,448.1 310.9,422.6 311.1,420.7 311.4,423.4 311.6,478.3 311.9,425.7 312.1,450.3 312.4,439.5 312.6,412.7 312.9,520.0 313.1,390.0 313.3,437.4 313.6,389.5 313.8,381.3 314.1,382.8 314.3,374.7 314.6,425.3 314.8,426.2 315.1,485.0 315.3,464.3 315.6,413.9 315.8,437.3 316.1,509.5 316.3,473.9 316.6,448.0 316.8,421.2 317.0,393.6 317.3,390.2 317.5,423.0 317.8,426.5 318.0,446.7 318.3,407.8 318.5,428.5 318.8,401.0 319.0,366.4 319.3,355.7 319.5,470.0 319.8,449.2 320.0,469.5 320.3,461.0 320.5,376.1 320.7,412.8 321.0,510.2 321.2,397.9 321.5,376.6 321.7,433.2 322.0,444.4 322.2,432.4 322.5,410.6 322.7,398.3 323.0,379.6 323.2,378.8 323.5,380.0 323.7,510.2 324.0,398.2 324.2,472.0 324.4,424.9 324.7,410.1 324.9,433.2 325.2,390.7 325.4,432.3 325.7,450.4 325.9,374.3 326.2,336.8 326.4,413.6 326.7,391.5 326.9,387.5 327.2,409.9 327.4,483.3 327.7,442.0 327.9,435.2 328.1,452.3 328.4,356.1 328.6,381.6 328.9,436.5 329.1,458.2 329.4,362.2 329.6,435.7 329.9,462.2 330.1,412.5 330.4,406.0 330.6,444.8 330.9,393.2 331.1,437.5 331.4,452.7 331.6,414.3 331.8,393.4 332.1,443.0 332.3,408.8 332.6,423.9 332.8,348.8 333.1,446.0 333.3,370.7 333.6,422.4 333.8,425.1 334.1,394.3 334.3,363.5 334.6,374.2 334.8,408.5 335.1,442.6 335.3,440.3 335.5,401.8 335.8,399.1 336.0,368.8 336.3,340.3 336.5,381.2 336.8,366.7 337.0,414.5 337.3,474.2 337.5,463.7 337.8,472.8 338.0,366.3 338.3,450.8 338.5,363.5 338.8,400.1 339.0,365.6 339.2,386.6 339.5,424.0 339.7,459.4 340.0,417.8 340.2,415.1 340.5,436.8 340.7,421.5 341.0,373.3 341.2,469.6 341.5,413.2 341.7,445.8 342.0,415.3 342.2,396.9 342.4,422.2 342.7,398.4 342.9,466.4 343.2,388.4 343.4,438.2 343.7,402.2 343.9,415.1 344.2,483.4 344.4,443.5 344.7,413.8 344.9,372.6 345.2,411.6 345.4,360.3 345.7,465.3 345.9,374.8 346.1,365.9 346.4,419.6 346.6,427.8 346.9,473.3 347.1,391.9 347.4,354.5 347.6,480.8 347.9,380.4 348.1,403.5 348.4,451.4 348.6,378.9 348.9,458.7 349.1,427.0 349.4,412.0 349.6,393.8 349.8,408.0 350.1,409.0 350.3,443.2 350.6,458.6 350.8,418.7 351.1,441.3 351.3,356.1 351.6,457.0 351.8,434.7 352.1,473.9 352.3,460.0 352.6,468.7 352.8,415.2 353.1,474.5 353.3,365.2 353.5,465.7 353.8,441.1 354.0,392.7 354.3,427.2 354.5,430.6 354.8,368.0 355.0,431.1 355.3,456.9 355.5,462.1 355.8,409.9 356.0,410.8 356.3,464.6 356.5,452.4 356.8,403.5 357.0,402.4 357.2,440.5 357.5,401.5 357.7,487.5 358.0,473.6 358.2,429.8 358.5,408.5 358.7,437.1 359.0,348.0 359.2,428.5 359.5,399.6 359.7,376.9 360.0,476.3 360.2,360.9 360.5,348.0 360.7,395.0 360.9,387.7 361.2,394.6 361.4,416.6 361.7,451.2 361.9,491.7 362.2,439.5 362.4,479.1 362.7,359.1 362.9,401.6 363.2,371.8 363.4,445.1 363.7,381.0 363.9,377.5 364.2,369.8 364.4,421.1 364.6,453.5 364.9,425.4 365.1,476.6 365.4,467.7 365.6,418.0 365.9,448.3 366.1,425.2 366.4,423.6 366.6,367.4 366.9,383.7 367.1,421.8 367.4,386.0 367.6,442.9 367.9,430.3 368.1,394.3 368.3,456.6 368.6,428.7 368.8,459.1 369.1,417.1 369.3,372.5 369.6,442.8 369.8,467.5 370.1,375.4 370.3,454.9 370.6,457.6 370.8,376.8 371.1,360.7 371.3,405.9 371.6,442.5 371.8,398.7 372.0,431.0 372.3,395.2 372.5,411.2 372.8,411.5 373.0,400.7 373.3,439.7 373.5,434.0 373.8,475.5 374.0,435.6 374.3,469.3 374.5,425.5 374.8,453.9 375.0,417.0 375.3,348.7 375.5,470.9 375.7,449.6 376.0,454.4 376.2,393.6 376.5,364.6 376.7,389.8 377.0,433.2 377.2,368.0 377.5,476.2 377.7,367.5 378.0,444.4 378.2,492.7 378.5,350.7 378.7,366.3 378.9,458.1 379.2,414.4 379.4,428.4 379.7,416.8 379.9,474.0 380.2,445.5 380.4,403.4 380.7,412.4 380.9,376.6 381.2,417.6 381.4,355.0 381.7,446.3 381.9,411.3 382.2,479.2 382.4,463.9 382.6,375.5 382.9,451.9 383.1,403.3 383.4,422.5 383.6,452.9 383.9,505.0 384.1,435.7 384.4,434.6 384.6,399.3 384.9,402.5 385.1,436.3 385.4,444.9 385.6,413.1 385.9,423.2 386.1,393.8 386.3,362.1 386.6,398.5 386.8,421.5 387.1,425.1 387.3,443.1 387.6,444.4 387.8,447.0 388.1,431.0 388.3,431.9 388.6,508.8 388.8,431.2 389.1,425.8 389.3,453.2 389.6,376.4 389.8,406.9 390.0,372.2 390.3,399.0 390.5,380.1 390.8,327.7 391.0,400.9 391.3,359.3 391.5,454.7 391.8,387.3 392.0,372.0 392.3,408.4 392.5,398.1 392.8,369.8 393.0,440.8 393.3,407.8 393.5,448.1 393.7,442.3 394.0,515.5 394.2,425.3 394.5,415.6 394.7,405.1 395.0,469.4 395.2,361.6 395.5,379.8 395.7,394.7 396.0,433.4 396.2,423.7 396.5,401.6 396.7,406.6 397.0,369.8 397.2,396.7 397.4,352.6 397.7,474.9 397.9,390.9 398.2,409.8 398.4,423.7 398.7,488.5 398.9,453.2 399.2,416.1 399.4,381.1 399.7,425.8 399.9,431.7 400.2,417.5 400.4,432.2 400.7,380.0 400.9,444.3 401.1,397.7 401.4,453.4 401.6,403.0 401.9,423.3 402.1,479.6 402.4,420.7 402.6,448.9 402.9,350.1 403.1,465.4 403.4,450.7 403.6,449.3 403.9,381.3 404.1,417.4 404.4,377.9 404.6,411.5 404.8,445.5 405.1,422.4 405.3,385.1 405.6,393.1 405.8,420.5 406.1,419.1 406.3,423.9 406.6,437.8 406.8,366.1 407.1,420.3 407.3,454.7 407.6,435.0 407.8,398.5 408.1,401.0 408.3,424.8 408.5,441.1 408.8,419.8 409.0,348.0 409.3,461.0 409.5,466.8 409.8,435.6 410.0,408.8 410.3,382.1 410.5,347.3 410.8,419.9 411.0,361.8 411.3,398.7 411.5,432.3 411.7,396.0 412.0,345.6 412.2,450.0 412.5,418.0 412.7,426.3 413.0,480.2 413.2,426.7 413.5,430.8 413.7,501.5 414.0,476.4 414.2,433.6 414.5,422.0 414.7,416.7 415.0,463.1 415.2,396.7 415.4,466.5 415.7,429.0 415.9,371.1 416.2,446.7 416.4,439.8 416.7,380.1 416.9,435.0 417.2,479.1 417.4,412.3 417.7,381.3 417.9,374.3 418.2,451.4 418.4,458.0 418.7,460.8 418.9,452.2 419.1,451.5 419.4,409.5 419.6,453.1 419.9,416.1 420.1,405.9 420.4,447.0 420.6,415.8 420.9,365.7 421.1,409.0 421.4,443.2 421.6,422.8 421.9,452.5 422.1,411.2 422.4,390.9 422.6,448.4 422.8,427.6 423.1,383.4 423.3,437.0 423.6,414.4 423.8,453.7 424.1,446.8 424.3,436.8 424.6,362.5 424.8,433.0 425.1,436.5 425.3,437.4 425.6,425.4 425.8,401.2 426.1,415.0 426.3,365.0 426.5,414.2 426.8,377.9 427.0,412.4 427.3,348.0 427.5,463.1 427.8,424.3 428.0,422.6 428.3,427.7 428.5,477.6 428.8,394.7 429.0,478.0 429.3,433.4 429.5,428.0 429.8,427.2 430.0,408.6 430.2,457.8 430.5,447.8 430.7,412.0 431.0,416.3 431.2,431.6 431.5,437.4 431.7,445.1 432.0,422.3 432.2,385.7 432.5,451.8 432.7,375.5 433.0,395.5 433.2,434.0 433.5,397.3 433.7,464.1 433.9,472.1 434.2,459.0 434.4,432.8 434.7,364.9 434.9,436.0 435.2,417.6 435.4,477.9 435.7,405.4 435.9,464.6 436.2,441.5 436.4,433.8 436.7,458.4 436.9,466.1 437.2,454.5 437.4,421.0 437.6,482.6 437.9,400.8 438.1,455.8 438.4,448.9 438.6,453.7 438.9,404.2 439.1,482.1 439.4,375.1 439.6,438.4 439.9,449.6 440.1,407.9 440.4,382.1 440.6,407.8 440.9,381.6 441.1,415.6 441.3,375.5 441.6,375.2 441.8,424.1 442.1,369.0 442.3,414.7 442.6,417.5 442.8,374.3 443.1,430.4 443.3,394.4 443.6,464.0 443.8,399.4 444.1,409.4 444.3,411.9 444.5,479.4 444.8,503.6 445.0,401.4 445.3,442.7 445.5,417.9 445.8,479.9 446.0,401.0 446.3,439.8 446.5,395.2 446.8,473.8 447.0,400.3 447.3,427.5 447.5,396.9 447.8,447.7 448.0,438.7 448.2,362.9 448.5,445.0 448.7,346.6 449.0,428.7 449.2,450.7 449.5,385.4 449.7,369.5 450.0,480.5 450.2,471.8 450.5,385.6 450.7,387.2 451.0,395.7 451.2,385.3 451.5,447.1 451.7,425.8 451.9,463.5 452.2,370.5 452.4,389.7 452.7,441.8 452.9,360.2 453.2,418.2 453.4,441.2 453.7,394.6 453.9,365.7 454.2,404.6 454.4,460.8 454.7,481.5 454.9,374.5 455.2,437.2 455.4,446.5 455.6,386.6 455.9,415.9 456.1,457.1 456.4,433.1 456.6,445.4 456.9,410.9 457.1,417.0 457.4,383.3 457.6,500.8 457.9,470.8 458.1,407.5 458.4,392.0 458.6,406.1 458.9,388.1 459.1,437.8 459.3,450.2 459.6,391.7 459.8,453.5 460.1,478.9 460.3,389.0 460.6,442.8 460.8,429.9 461.1,463.4 461.3,461.2 461.6,456.0 461.8,431.6 462.1,409.2 462.3,480.4 462.6,397.6 462.8,456.6 463.0,453.1 463.3,399.9 463.5,422.8 463.8,467.3 464.0,490.3 464.3,446.7 464.5,413.0 464.8,343.8 465.0,377.8 465.3,434.2 465.5,390.6 465.8,442.4 466.0,387.7 466.3,442.7 466.5,431.0 466.7,367.6 467.0,411.6 467.2,417.5 467.5,364.2 467.7,410.5 468.0,443.0 468.2,400.4 468.5,452.7 468.7,390.0 469.0,388.1 469.2,435.9 469.5,437.3 469.7,476.2 470.0,420.2 470.2,446.5 470.4,405.4 470.7,474.2 470.9,344.9 471.2,431.5 471.4,428.0 471.7,412.1 471.9,454.7 472.2,404.0 472.4,425.7 472.7,439.1 472.9,460.0 473.2,455.0 473.4,409.9 473.7,449.2 473.9,418.6 474.1,388.2 474.4,480.5 474.6,372.0 474.9,429.9 475.1,454.5 475.4,388.7 475.6,410.9 475.9,385.8 476.1,420.2 476.4,383.9 476.6,394.7 476.9,398.8 477.1,405.3 477.4,408.6 477.6,413.6 477.8,413.8 478.1,370.5 478.3,435.7 478.6,369.4 478.8,423.7 479.1,391.7 479.3,423.2 479.6,427.7 479.8,365.7 480.1,429.6 480.3,458.6 480.6,442.2 480.8,353.3 481.0,362.3 481.3,414.0 481.5,500.1 481.8,453.4 482.0,408.8 482.3,397.9 482.5,364.6 482.8,444.6 483.0,399.5 483.3,409.9 483.5,456.9 483.8,421.2 484.0,430.1 484.3,369.1 484.5,398.7 484.7,400.7 485.0,436.6 485.2,469.6 485.5,367.6 485.7,410.8 486.0,383.5 486.2,478.0 486.5,439.5 486.7,391.1 487.0,429.3 487.2,422.8 487.5,423.6 487.7,420.6 488.0,380.6 488.2,416.1 488.4,426.0 488.7,430.4 488.9,408.5 489.2,452.2 489.4,438.3 489.7,422.4 489.9,440.4 490.2,424.7 490.4,441.7 490.7,361.6 490.9,374.9 491.2,405.2 491.4,343.8 491.7,359.6 491.9,409.7 492.1,423.5 492.4,410.5 492.6,410.4 492.9,374.2 493.1,421.2 493.4,362.0 493.6,462.9 493.9,398.3 494.1,452.4 494.4,366.3 494.6,430.9 494.9,422.4 495.1,391.2 495.4,380.3 495.6,456.4 495.8,431.8 496.1,466.1 496.3,416.0 496.6,423.9 496.8,432.2 497.1,366.6 497.3,433.6 497.6,445.8 497.8,402.5 498.1,368.6 498.3,478.9 498.6,424.6 498.8,435.1 499.1,482.6 499.3,453.9 499.5,425.7 499.8,456.9 500.0,396.3 500.3,417.1 500.5,426.1 500.8,408.0 501.0,428.9 501.3,472.5 501.5,400.8 501.8,411.1 502.0,425.6 502.3,388.8 502.5,381.6 502.8,455.1 503.0,476.2 503.2,372.6 503.5,377.0 503.7,443.0 504.0,456.0 504.2,439.5 504.5,435.2 504.7,467.9 505.0,419.6 505.2,459.9 505.5,458.2 505.7,391.6 506.0,442.4 506.2,422.9 506.5,399.9 506.7,393.5 506.9,431.9 507.2,419.0 507.4,449.0 507.7,511.3 507.9,397.8 508.2,459.6 508.4,420.4 508.7,395.0 508.9,403.3 509.2,362.8 509.4,370.5 509.7,440.1 509.9,423.8 510.2,466.7 510.4,411.6 510.6,415.2 510.9,350.9 511.1,417.1 511.4,481.6 511.6,443.9 511.9,416.7 512.1,463.6 512.4,450.1 512.6,432.9 512.9,409.1 513.1,426.0 513.4,449.7 513.6,395.0 513.8,437.9 514.1,436.4 514.3,464.0 514.6,445.5 514.8,399.8 515.1,472.4 515.3,479.8 515.6,397.3 515.8,432.8 516.1,412.7 516.3,457.4 516.6,377.1 516.8,383.9 517.1,412.7 517.3,475.9 517.5,455.9 517.8,387.4 518.0,365.9 518.3,339.6 518.5,377.6 518.8,441.6 519.0,427.1 519.3,420.5 519.5,406.0 519.8,360.3 520.0,389.2 520.3,377.1 520.5,457.6 520.8,472.7 521.0,409.7 521.2,440.5 521.5,480.7 521.7,396.8 522.0,416.1 522.2,434.1 522.5,365.6 522.7,416.7 523.0,441.1 523.2,417.8 523.5,448.3 523.7,440.7 524.0,374.3 524.2,435.0 524.5,432.4 524.7,376.5 524.9,397.7 525.2,399.0 525.4,406.2 525.7,407.3 525.9,380.3 526.2,468.5 526.4,368.2 526.7,447.9 526.9,428.0 527.2,461.4 527.4,430.9 527.7,404.7 527.9,369.1 528.2,441.5 528.4,420.4 528.6,432.3 528.9,445.0 529.1,460.5 529.4,418.5 529.6,474.8 529.9,417.0 530.1,419.9 530.4,440.6 530.6,450.8 530.9,476.2 531.1,367.7 531.4,458.5 531.6,377.2 531.9,404.1 532.1,430.4 532.3,451.5 532.6,392.9 532.8,375.0 533.1,445.0 533.3,428.3 533.6,393.4 533.8,411.9 534.1,369.3 534.3,363.5 534.6,406.7 534.8,452.6 535.1,367.8 535.3,439.2 535.6,474.9 535.8,423.8 536.0,424.1 536.3,371.6 536.5,429.2 536.8,355.0 537.0,405.4 537.3,380.1 537.5,422.2 537.8,394.1 538.0,508.8 538.3,428.1 538.5,418.6 538.8,419.8 539.0,443.8 539.3,389.6 539.5,455.9 539.7,390.6 540.0,396.1 540.2,422.9 540.5,440.3 540.7,359.6 541.0,408.2 541.2,401.1 541.5,413.0 541.7,394.2 542.0,435.5 542.2,414.2 542.5,463.3 542.7,399.5 543.0,474.5 543.2,432.3 543.4,387.2 543.7,400.4 543.9,485.7 544.2,419.4 544.4,463.2 544.7,348.7 544.9,360.4 545.2,435.5 545.4,418.4 545.7,427.7 545.9,410.6 546.2,402.3 546.4,353.3 546.7,448.2 546.9,376.7 547.1,446.4 547.4,412.9 547.6,388.7 547.9,401.0 548.1,446.2 548.4,439.6 548.6,433.1 548.9,486.1 549.1,389.4 549.4,455.9 549.6,407.7 549.9,403.6 550.1,404.9 550.3,407.4 550.6,377.3 550.8,406.5 551.1,352.6 551.3,404.0 551.6,368.0 551.8,475.0 552.1,381.8 552.3,428.5 552.6,429.2 552.8,450.8 553.1,475.9 553.3,432.7 553.6,475.2 553.8,404.5 554.0,469.4 554.3,372.2 554.5,411.2 554.8,429.2 555.0,445.6 555.3,448.6 555.5,461.3 555.8,440.3 556.0,420.3 556.3,427.1 556.5,472.9 556.8,430.4 557.0,453.8 557.3,414.6 557.5,361.3 557.7,397.1 558.0,432.3 558.2,476.7 558.5,473.6 558.7,477.7 559.0,393.2 559.2,449.3 559.5,477.0 559.7,443.8 560.0,417.2 560.2,368.7 560.5,445.7 560.7,433.0 561.0,449.5 561.2,389.6 561.4,456.1 561.7,459.0 561.9,466.4 562.2,465.8 562.4,405.9 562.7,358.2 562.9,449.7 563.2,393.4 563.4,477.7 563.7,450.6 563.9,428.1 564.2,426.9 564.4,439.4 564.7,368.1 564.9,313.7 565.1,410.1 565.4,411.4 565.6,436.5 565.9,416.4 566.1,396.3 566.4,416.3 566.6,409.0 566.9,401.3 567.1,474.9 567.4,379.4 567.6,363.8 567.9,393.2 568.1,392.2 568.4,460.0 568.6,342.8 568.8,443.5 569.1,437.2 569.3,392.9 569.6,443.7 569.8,424.3 570.1,474.6 570.3,425.2 570.6,417.9 570.8,441.7 571.1,442.3 571.3,366.2 571.6,457.7 571.8,453.1 572.1,445.8 572.3,382.8 572.5,362.5 572.8,409.9 573.0,443.7 573.3,434.5 573.5,385.6 573.8,363.1 574.0,372.6 574.3,373.7 574.5,418.2 574.8,399.1 575.0,395.6 575.3,368.6 575.5,455.8 575.8,380.9 576.0,433.2 576.2,446.4 576.5,417.1 576.7,427.8 577.0,454.1 577.2,474.0 577.5,452.7 577.7,370.9 578.0,362.3 578.2,367.7 578.5,379.7 578.7,499.4 579.0,423.2 579.2,411.0 579.5,457.0 579.7,453.7 579.9,417.3 580.2,431.2 580.4,455.6 580.7,407.9 580.9,364.2 581.2,387.6 581.4,420.7 581.7,430.1 581.9,416.5 582.2,426.0 582.4,441.4 582.7,433.0 582.9,397.4 583.1,400.7 583.4,381.4 583.6,472.0 583.9,432.5 584.1,433.2 584.4,415.3 584.6,477.0 584.9,436.1 585.1,367.0 585.4,415.1 585.6,455.9 585.9,380.1 586.1,390.3 586.4,438.0 586.6,395.4 586.8,442.8 587.1,386.5 587.3,427.1 587.6,444.9 587.8,431.8 588.1,443.7 588.3,414.7 588.6,501.5 588.8,419.4 589.1,437.9 589.3,498.2 589.6,417.6 589.8,476.5 590.1,412.7 590.3,365.6 590.5,411.6 590.8,433.4 591.0,426.5 591.3,425.0 591.5,439.1 591.8,440.4 592.0,452.3 592.3,379.5 592.5,421.1 592.8,387.1 593.0,429.3 593.3,418.0 593.5,426.6 593.8,404.2 594.0,479.1 594.2,412.1 594.5,444.2 594.7,447.9 595.0,366.0 595.2,430.4 595.5,430.7 595.7,369.3 596.0,382.6 596.2,350.8 596.5,434.5 596.7,356.5 597.0,406.9 597.2,401.6 597.5,426.5 597.7,469.5 597.9,466.7 598.2,406.5 598.4,407.2 598.7,428.6 598.9,459.6 599.2,479.8 599.4,431.2 599.7,467.0 599.9,392.3 600.2,384.9 600.4,354.8 600.7,394.3 600.9,438.0 601.2,445.9 601.4,348.4 601.6,437.4 601.9,505.7 602.1,393.8 602.4,403.8 602.6,404.6 602.9,414.8 603.1,402.9 603.4,381.8 603.6,449.2 603.9,432.9 604.1,458.3 604.4,376.3 604.6,384.8 604.9,399.7 605.1,454.0 605.3,415.7 605.6,326.3 605.8,418.2 606.1,426.0 606.3,405.4 606.6,502.5 606.8,395.3 607.1,413.3 607.3,360.7 607.6,424.0 607.8,434.1 608.1,395.3 608.3,429.0 608.6,411.4 608.8,432.8 609.0,466.8 609.3,392.3 609.5,453.6 609.8,399.3 610.0,407.4 610.3,472.5 610.5,450.2 610.8,436.7 611.0,446.4 611.3,457.8 611.5,397.2 611.8,428.1 612.0,473.4 612.3,434.2 612.5,410.9 612.7,344.5 613.0,421.4 613.2,402.3 613.5,419.2 613.7,434.6 614.0,453.6 614.2,415.5 614.5,410.3 614.7,428.2 615.0,443.0 615.2,404.9 615.5,360.9 615.7,429.1 615.9,411.1 616.2,410.1 616.4,480.6 616.7,417.2 616.9,439.8 617.2,383.1 617.4,427.4 617.7,441.3 617.9,426.4 618.2,416.1 618.4,515.1 618.7,422.0 618.9,457.6 619.2,426.8 619.4,398.9 619.6,362.1 619.9,400.4 620.1,412.7 620.4,386.0 620.6,390.5 620.9,370.8 621.1,387.8 621.4,492.4 621.6,412.5 621.9,414.9 622.1,410.9 622.4,414.1 622.6,446.2 622.9,480.2 623.1,442.6 623.3,478.6 623.6,418.4 623.8,420.4 624.1,367.0 624.3,399.2 624.6,393.9 624.8,417.6 625.1,370.5 625.3,367.0 625.6,456.0 625.8,390.4 626.1,504.3 626.3,408.6 626.6,394.2 626.8,440.7 627.0,437.0 627.3,443.3 627.5,441.2 627.8,423.2 628.0,460.4 628.3,449.6 628.5,404.3 628.8,422.6 629.0,409.4 629.3,474.7 629.5,444.2 629.8,437.6 630.0,456.6 630.3,439.2 630.5,390.3 630.7,422.5 631.0,420.0 631.2,420.1 631.5,396.1 631.7,350.1 632.0,380.9 632.2,404.1 632.5,415.0 632.7,419.0 633.0,401.7 633.2,384.0 633.5,386.6 633.7,407.1 634.0,389.3 634.2,416.4 634.4,376.3 634.7,421.5 634.9,481.3 635.2,373.9 635.4,416.8 635.7,460.9 635.9,427.3 636.2,450.7 636.4,360.8 636.7,403.8 636.9,473.0 637.2,402.4 637.4,433.7 637.7,364.1 637.9,455.0 638.1,481.6 638.4,418.4 638.6,431.9 638.9,466.1 639.1,480.2 639.4,406.7 639.6,367.5 639.9,477.1 640.1,353.3 640.4,439.0 640.6,358.8 640.9,406.5 641.1,426.6 641.4,384.9 641.6,403.6 641.8,439.6 642.1,397.7 642.3,437.0 642.6,475.2 642.8,363.3 643.1,431.6 643.3,439.7 643.6,410.0 643.8,468.9 644.1,363.1 644.3,435.8 644.6,436.3 644.8,468.2 645.1,386.9 645.3,434.7 645.5,406.0 645.8,402.9 646.0,452.2 646.3,413.9 646.5,447.7 646.8,390.1 647.0,407.6 647.3,420.1 647.5,458.3 647.8,417.3 648.0,442.3 648.3,400.4 648.5,424.0 648.8,443.9 649.0,354.3 649.2,399.6 649.5,437.8 649.7,386.6 650.0,429.3 650.2,429.7 650.5,416.9 650.7,443.0 651.0,433.8 651.2,425.4 651.5,374.3 651.7,498.0 652.0,428.4 652.2,371.2 652.4,421.9 652.7,409.1 652.9,394.4 653.2,412.0 653.4,361.6 653.7,413.7 653.9,361.4 654.2,384.7 654.4,431.7 654.7,476.2 654.9,484.1 655.2,394.2 655.4,399.1 655.7,399.8 655.9,395.2 656.1,376.9 656.4,421.7 656.6,396.5 656.9,439.6 657.1,429.6 657.4,393.7 657.6,410.6 657.9,454.5 658.1,411.3 658.4,425.2 658.6,441.5 658.9,409.4 659.1,430.9 659.4,460.9 659.6,449.1 659.8,475.2 660.1,459.6 660.3,414.8 660.6,404.8 660.8,404.0 661.1,375.4 661.3,428.9 661.6,416.9 661.8,399.6 662.1,437.5 662.3,451.3 662.6,393.9 662.8,391.0 663.1,410.6 663.3,437.1 663.5,409.4 663.8,417.5 664.0,397.0 664.3,456.1 664.5,417.2 664.8,425.2 665.0,453.4 665.3,414.1 665.5,419.5 665.8,466.8 666.0,408.1 666.3,465.9 666.5,422.3 666.8,406.4 667.0,411.1" fill="none" stroke="#545454" stroke-width="1.6"/>
<line x1="49.7" y1="420.8" x2="668.0" y2="420.8" stroke="#ee0707" stroke-width="2.0"/>
<line x1="427.5" y1="334.9" x2="396.8" y2="413.7" stroke="#000" stroke-width="1.1"/><polygon points="394.4,419.8 394.9,411.9 399.4,413.7" fill="#000"/>
<text transform="translate(0,329.40) scale(1,1.05) translate(0,-329.40)" x="415.2" y="329.4" font-size="11.1" font-weight="bold" font-family="Liberation Sans, sans-serif">10.61fT/Hz<tspan dx="1" dy="-4.6" font-size="8">1/2</tspan></text>
<rect x="49.7" y="301.8" width="618.3" height="227.59999999999997" fill="none" stroke="#000" stroke-width="2"/>
<line x1="46.300000000000004" y1="512.0" x2="49.7" y2="512.0" stroke="#000" stroke-width="2"/>
<line x1="668.0" y1="512.0" x2="671.4" y2="512.0" stroke="#000" stroke-width="2"/>
<text transform="translate(0,516.80) scale(1,1.05) translate(0,-516.80)" x="41.8" y="516.8" font-size="11.6" font-weight="bold" text-anchor="end" font-family="Liberation Sans, sans-serif">8</text>
<line x1="46.300000000000004" y1="477.0" x2="49.7" y2="477.0" stroke="#000" stroke-width="2"/>
<line x1="668.0" y1="477.0" x2="671.4" y2="477.0" stroke="#000" stroke-width="2"/>
<text transform="translate(0,481.80) scale(1,1.05) translate(0,-481.80)" x="41.8" y="481.8" font-size="11.6" font-weight="bold" text-anchor="end" font-family="Liberation Sans, sans-serif">9</text>
<line x1="46.300000000000004" y1="441.9" x2="49.7" y2="441.9" stroke="#000" stroke-width="2"/>
<line x1="668.0" y1="441.9" x2="671.4" y2="441.9" stroke="#000" stroke-width="2"/>
<text transform="translate(0,446.70) scale(1,1.05) translate(0,-446.70)" x="41.8" y="446.7" font-size="11.6" font-weight="bold" text-anchor="end" font-family="Liberation Sans, sans-serif">10</text>
<line x1="46.300000000000004" y1="406.9" x2="49.7" y2="406.9" stroke="#000" stroke-width="2"/>
<line x1="668.0" y1="406.9" x2="671.4" y2="406.9" stroke="#000" stroke-width="2"/>
<text transform="translate(0,411.70) scale(1,1.05) translate(0,-411.70)" x="41.8" y="411.7" font-size="11.6" font-weight="bold" text-anchor="end" font-family="Liberation Sans, sans-serif">11</text>
<line x1="46.300000000000004" y1="371.9" x2="49.7" y2="371.9" stroke="#000" stroke-width="2"/>
<line x1="668.0" y1="371.9" x2="671.4" y2="371.9" stroke="#000" stroke-width="2"/>
<text transform="translate(0,376.70) scale(1,1.05) translate(0,-376.70)" x="41.8" y="376.7" font-size="11.6" font-weight="bold" text-anchor="end" font-family="Liberation Sans, sans-serif">12</text>
<line x1="46.300000000000004" y1="336.8" x2="49.7" y2="336.8" stroke="#000" stroke-width="2"/>
<line x1="668.0" y1="336.8" x2="671.4" y2="336.8" stroke="#000" stroke-width="2"/>
<text transform="translate(0,341.60) scale(1,1.05) translate(0,-341.60)" x="41.8" y="341.6" font-size="11.6" font-weight="bold" text-anchor="end" font-family="Liberation Sans, sans-serif">13</text>
<line x1="46.300000000000004" y1="301.8" x2="49.7" y2="301.8" stroke="#000" stroke-width="2"/>
<line x1="668.0" y1="301.8" x2="671.4" y2="301.8" stroke="#000" stroke-width="2"/>
<text transform="translate(0,306.60) scale(1,1.05) translate(0,-306.60)" x="41.8" y="306.6" font-size="11.6" font-weight="bold" text-anchor="end" font-family="Liberation Sans, sans-serif">14</text>
<line x1="47.2" y1="529.5" x2="49.7" y2="529.5" stroke="#000" stroke-width="1.5"/>
<line x1="668.0" y1="529.5" x2="670.5" y2="529.5" stroke="#000" stroke-width="1.5"/>
<line x1="47.2" y1="494.5" x2="49.7" y2="494.5" stroke="#000" stroke-width="1.5"/>
<line x1="668.0" y1="494.5" x2="670.5" y2="494.5" stroke="#000" stroke-width="1.5"/>
<line x1="47.2" y1="459.4" x2="49.7" y2="459.4" stroke="#000" stroke-width="1.5"/>
<line x1="668.0" y1="459.4" x2="670.5" y2="459.4" stroke="#000" stroke-width="1.5"/>
<line x1="47.2" y1="424.4" x2="49.7" y2="424.4" stroke="#000" stroke-width="1.5"/>
<line x1="668.0" y1="424.4" x2="670.5" y2="424.4" stroke="#000" stroke-width="1.5"/>
<line x1="47.2" y1="389.4" x2="49.7" y2="389.4" stroke="#000" stroke-width="1.5"/>
<line x1="668.0" y1="389.4" x2="670.5" y2="389.4" stroke="#000" stroke-width="1.5"/>
<line x1="47.2" y1="354.3" x2="49.7" y2="354.3" stroke="#000" stroke-width="1.5"/>
<line x1="668.0" y1="354.3" x2="670.5" y2="354.3" stroke="#000" stroke-width="1.5"/>
<line x1="47.2" y1="319.3" x2="49.7" y2="319.3" stroke="#000" stroke-width="1.5"/>
<line x1="668.0" y1="319.3" x2="670.5" y2="319.3" stroke="#000" stroke-width="1.5"/>
<line x1="49.7" y1="529.4" x2="49.7" y2="534.4" stroke="#000" stroke-width="2"/>
<line x1="49.7" y1="301.8" x2="49.7" y2="296.8" stroke="#000" stroke-width="2"/>
<line x1="127.0" y1="529.4" x2="127.0" y2="531.9" stroke="#000" stroke-width="2"/>
<line x1="127.0" y1="301.8" x2="127.0" y2="299.3" stroke="#000" stroke-width="2"/>
<line x1="204.3" y1="529.4" x2="204.3" y2="534.4" stroke="#000" stroke-width="2"/>
<line x1="204.3" y1="301.8" x2="204.3" y2="296.8" stroke="#000" stroke-width="2"/>
<line x1="281.6" y1="529.4" x2="281.6" y2="531.9" stroke="#000" stroke-width="2"/>
<line x1="281.6" y1="301.8" x2="281.6" y2="299.3" stroke="#000" stroke-width="2"/>
<line x1="358.8" y1="529.4" x2="358.8" y2="534.4" stroke="#000" stroke-width="2"/>
<line x1="358.8" y1="301.8" x2="358.8" y2="296.8" stroke="#000" stroke-width="2"/>
<line x1="436.1" y1="529.4" x2="436.1" y2="531.9" stroke="#000" stroke-width="2"/>
<line x1="436.1" y1="301.8" x2="436.1" y2="299.3" stroke="#000" stroke-width="2"/>
<line x1="513.4" y1="529.4" x2="513.4" y2="534.4" stroke="#000" stroke-width="2"/>
<line x1="513.4" y1="301.8" x2="513.4" y2="296.8" stroke="#000" stroke-width="2"/>
<line x1="590.7" y1="529.4" x2="590.7" y2="531.9" stroke="#000" stroke-width="2"/>
<line x1="590.7" y1="301.8" x2="590.7" y2="299.3" stroke="#000" stroke-width="2"/>
<line x1="668.0" y1="529.4" x2="668.0" y2="534.4" stroke="#000" stroke-width="2"/>
<line x1="668.0" y1="301.8" x2="668.0" y2="296.8" stroke="#000" stroke-width="2"/>
<text transform="translate(0,548.60) scale(1,1.05) translate(0,-548.60)" x="49.7" y="548.6" font-size="11.6" font-weight="bold" text-anchor="middle" font-family="Liberation Sans, sans-serif">0</text>
<text transform="translate(0,548.60) scale(1,1.05) translate(0,-548.60)" x="204.3" y="548.6" font-size="11.6" font-weight="bold" text-anchor="middle" font-family="Liberation Sans, sans-serif">3600</text>
<text transform="translate(0,548.60) scale(1,1.05) translate(0,-548.60)" x="358.8" y="548.6" font-size="11.6" font-weight="bold" text-anchor="middle" font-family="Liberation Sans, sans-serif">7200</text>
<text transform="translate(0,548.60) scale(1,1.05) translate(0,-548.60)" x="513.4" y="548.6" font-size="11.6" font-weight="bold" text-anchor="middle" font-family="Liberation Sans, sans-serif">10,800</text>
<text transform="translate(0,548.60) scale(1,1.05) translate(0,-548.60)" x="668.0" y="548.6" font-size="11.6" font-weight="bold" text-anchor="middle" font-family="Liberation Sans, sans-serif">14,400</text>
<text transform="translate(0,564.30) scale(1,1.05) translate(0,-564.30)" x="359.2" y="564.3" font-size="11.6" font-weight="bold" text-anchor="middle" font-family="Liberation Sans, sans-serif">Time(s)</text>
<text transform="translate(19.4,416.6) rotate(-90)" font-size="11.4" font-weight="bold" text-anchor="middle" font-family="Liberation Sans, sans-serif">Sensitivity(fT/Hz<tspan dy="-4.6" font-size="8.2">1/2</tspan><tspan dy="4.6">)</tspan></text>
</svg></body></html>
